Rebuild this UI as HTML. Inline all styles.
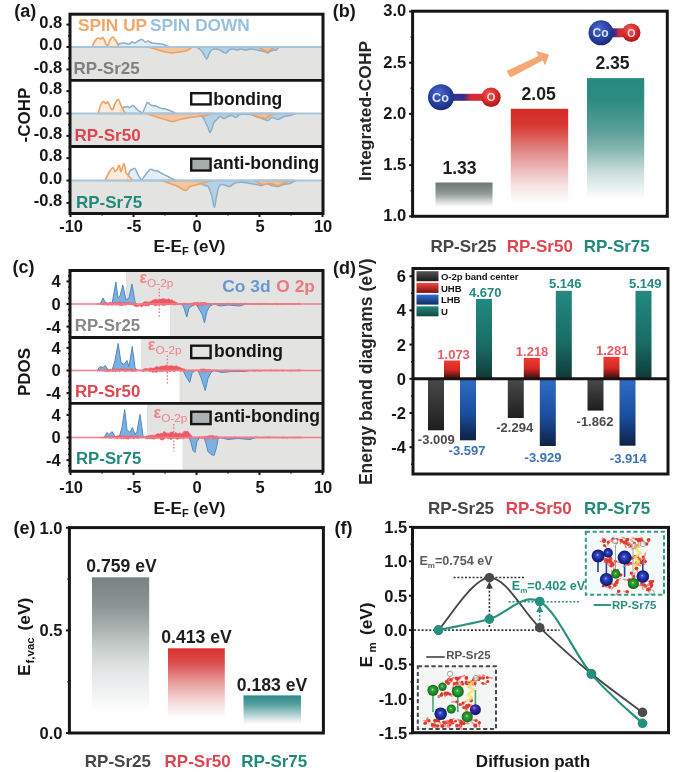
<!DOCTYPE html>
<html><head><meta charset="utf-8"><title>Figure</title>
<style>
html,body{margin:0;padding:0;background:#fff;}
body{width:697px;height:772px;overflow:hidden;}
svg{display:block;font-family:"Liberation Sans",sans-serif;filter:blur(0.35px);}
</style></head>
<body>
<svg width="697" height="772" viewBox="0 0 697 772">
<rect x="0" y="0" width="697" height="772" fill="#ffffff"/>
<rect x="70" y="47" width="253" height="33.3" fill="#e3e4e2"/>
<rect x="70" y="113.5" width="253" height="33.0" fill="#e3e4e2"/>
<rect x="70" y="180.5" width="253" height="32.5" fill="#e3e4e2"/>
<path d="M115.0,47.0 C115.7,46.5 117.5,44.7 119.0,44.0 C120.5,43.3 122.3,43.0 124.0,43.0 C125.7,43.0 127.7,44.2 129.0,44.0 C130.3,43.8 131.0,42.2 132.0,42.0 C133.0,41.8 134.0,43.2 135.0,43.0 C136.0,42.8 136.8,41.6 138.0,41.0 C139.2,40.4 140.8,39.3 142.0,39.5 C143.2,39.7 144.0,41.8 145.0,42.0 C146.0,42.2 146.8,40.8 148.0,41.0 C149.2,41.2 150.7,42.6 152.0,43.0 C153.3,43.4 154.3,43.3 156.0,43.5 C157.7,43.7 160.3,43.7 162.0,44.0 C163.7,44.3 164.7,45.0 166.0,45.5 C167.3,46.0 169.3,46.8 170.0,47.0 L170.0,47.0 L115.0,47.0 Z" fill="#deedf7" fill-opacity="0.9" stroke="#8eadc6" stroke-width="1.5" stroke-linejoin="round"/>
<path d="M196.0,47.0 C196.6,47.3 198.3,48.0 199.5,49.0 C200.7,50.0 201.8,51.3 203.0,53.0 C204.2,54.7 205.8,58.8 206.8,59.0 C207.8,59.2 208.2,55.5 209.0,54.0 C209.8,52.5 210.5,50.8 211.7,50.0 C212.9,49.2 214.6,49.0 216.0,49.0 C217.4,49.0 218.8,49.5 220.0,50.0 C221.2,50.5 221.9,51.5 223.0,52.0 C224.1,52.5 225.3,53.3 226.3,53.0 C227.3,52.7 227.9,50.7 229.0,50.0 C230.1,49.3 231.7,49.0 233.0,49.0 C234.3,49.0 235.7,50.0 237.0,50.0 C238.3,50.0 239.5,49.0 241.0,49.0 C242.5,49.0 244.3,50.0 246.0,50.0 C247.7,50.0 249.2,49.0 251.0,49.0 C252.8,49.0 255.2,49.7 257.0,50.0 C258.8,50.3 260.5,50.7 262.0,51.0 C263.5,51.3 265.0,51.7 266.0,52.0 C267.0,52.3 267.2,53.2 268.0,53.0 C268.8,52.8 270.0,51.5 271.0,51.0 C272.0,50.5 273.2,50.2 274.0,50.0 C274.8,49.8 275.2,50.5 276.0,50.0 C276.8,49.5 278.5,47.5 279.0,47.0 L279.0,47.0 L196.0,47.0 Z" fill="#aecfe8" fill-opacity="0.9" stroke="#8eadc6" stroke-width="1.5" stroke-linejoin="round"/>
<path d="M92.0,47.0 C92.5,46.0 94.0,42.5 95.0,41.0 C96.0,39.5 97.0,38.3 98.0,38.0 C99.0,37.7 100.2,39.1 101.0,39.0 C101.8,38.9 102.2,36.7 103.0,37.5 C103.8,38.3 105.2,42.7 106.0,44.0 C106.8,45.3 107.3,46.2 108.0,45.5 C108.7,44.8 109.2,41.4 110.0,40.0 C110.8,38.6 112.0,36.8 113.0,37.0 C114.0,37.2 115.0,39.3 116.0,41.0 C117.0,42.7 118.5,46.0 119.0,47.0 L119.0,47.0 L92.0,47.0 Z" fill="#fce6d2" fill-opacity="0.8" stroke="#f0a060" stroke-width="1.6" stroke-linejoin="round"/>
<path d="M148.0,47.0 C149.2,47.3 152.5,48.2 155.0,49.0 C157.5,49.8 160.2,50.8 163.0,51.5 C165.8,52.2 169.2,52.9 172.0,53.0 C174.8,53.1 177.5,52.4 180.0,52.0 C182.5,51.6 185.0,51.3 187.0,50.5 C189.0,49.7 191.2,47.6 192.0,47.0 L192.0,47.0 L148.0,47.0 Z" fill="#f5be92" fill-opacity="0.8" stroke="#f0a060" stroke-width="1.6" stroke-linejoin="round"/>
<path d="M258.0,47.0 C259.0,47.5 262.3,49.2 264.0,50.0 C265.7,50.8 266.7,51.8 268.0,51.5 C269.3,51.2 270.7,49.2 272.0,48.5 C273.3,47.8 275.3,47.2 276.0,47.0 L276.0,47.0 L258.0,47.0 Z" fill="#f5be92" fill-opacity="0.8" stroke="#f0a060" stroke-width="1.6" stroke-linejoin="round"/>
<line x1="70" y1="47" x2="323" y2="47" stroke="#a6c6de" stroke-width="1.8"/>
<path d="M120.0,113.5 C120.3,112.7 120.8,109.7 122.0,108.5 C123.2,107.3 125.7,106.7 127.0,106.5 C128.3,106.3 129.0,107.7 130.0,107.5 C131.0,107.3 131.8,105.2 133.0,105.5 C134.2,105.8 135.8,108.5 137.0,109.5 C138.2,110.5 139.1,111.0 140.0,111.5 C140.9,112.0 141.8,113.2 142.6,112.5 C143.4,111.8 144.2,109.2 145.0,107.5 C145.8,105.8 146.5,103.0 147.3,102.5 C148.1,102.0 149.2,104.0 150.0,104.5 C150.8,105.0 151.0,105.2 152.0,105.5 C153.0,105.8 154.8,105.7 156.0,106.0 C157.2,106.3 158.0,107.1 159.0,107.5 C160.0,107.9 160.7,108.2 162.0,108.5 C163.3,108.8 165.3,109.0 167.0,109.5 C168.7,110.0 170.5,110.8 172.0,111.5 C173.5,112.2 175.3,113.2 176.0,113.5 L176.0,113.5 L120.0,113.5 Z" fill="#deedf7" fill-opacity="0.9" stroke="#8eadc6" stroke-width="1.5" stroke-linejoin="round"/>
<path d="M198.0,113.5 C198.8,114.2 201.7,115.8 203.0,117.5 C204.3,119.2 205.2,121.8 206.0,123.5 C206.8,125.2 207.3,126.0 208.0,127.5 C208.7,129.0 209.3,132.3 210.0,132.5 C210.7,132.7 211.3,130.2 212.0,128.5 C212.7,126.8 213.2,124.0 214.0,122.5 C214.8,121.0 216.0,120.5 217.0,119.5 C218.0,118.5 218.8,116.7 220.0,116.5 C221.2,116.3 222.7,118.5 224.0,118.5 C225.3,118.5 226.7,117.0 228.0,116.5 C229.3,116.0 230.7,115.3 232.0,115.5 C233.3,115.7 234.7,117.7 236.0,117.5 C237.3,117.3 237.7,115.0 240.0,114.5 C242.3,114.0 247.3,114.2 250.0,114.5 C252.7,114.8 254.0,115.8 256.0,116.5 C258.0,117.2 260.0,117.8 262.0,118.5 C264.0,119.2 266.3,120.7 268.0,120.5 C269.7,120.3 270.3,117.7 272.0,117.5 C273.7,117.3 276.0,119.7 278.0,119.5 C280.0,119.3 282.0,117.2 284.0,116.5 C286.0,115.8 288.0,116.0 290.0,115.5 C292.0,115.0 295.0,113.8 296.0,113.5 L296.0,113.5 L198.0,113.5 Z" fill="#aecfe8" fill-opacity="0.9" stroke="#8eadc6" stroke-width="1.5" stroke-linejoin="round"/>
<path d="M98.0,113.5 C98.5,112.0 100.1,106.5 101.0,104.5 C101.9,102.5 102.6,101.7 103.4,101.5 C104.2,101.3 105.2,103.4 106.0,103.5 C106.8,103.6 107.2,101.3 108.0,102.0 C108.8,102.7 109.7,106.2 110.5,107.5 C111.3,108.8 112.0,110.2 112.8,109.5 C113.5,108.8 114.1,105.2 115.0,103.5 C115.9,101.8 117.4,99.2 118.4,99.5 C119.4,99.8 120.1,103.5 121.0,105.5 C121.9,107.5 123.2,110.2 124.0,111.5 C124.8,112.8 125.7,113.2 126.0,113.5 L126.0,113.5 L98.0,113.5 Z" fill="#fce6d2" fill-opacity="0.8" stroke="#f0a060" stroke-width="1.6" stroke-linejoin="round"/>
<path d="M146.0,113.5 C147.5,114.0 151.8,115.5 155.0,116.5 C158.2,117.5 162.1,118.7 165.0,119.5 C167.9,120.3 170.0,121.5 172.5,121.5 C175.0,121.5 177.1,120.2 180.0,119.5 C182.9,118.8 187.0,118.0 190.0,117.5 C193.0,117.0 195.5,116.8 198.0,116.5 C200.5,116.2 202.7,116.0 205.0,115.5 C207.3,115.0 210.8,113.8 212.0,113.5 L212.0,113.5 L146.0,113.5 Z" fill="#f5be92" fill-opacity="0.8" stroke="#f0a060" stroke-width="1.6" stroke-linejoin="round"/>
<path d="M250.0,113.5 C251.3,114.0 255.5,115.7 258.0,116.5 C260.5,117.3 263.0,118.7 265.0,118.5 C267.0,118.3 268.3,116.3 270.0,115.5 C271.7,114.7 274.2,113.8 275.0,113.5 L275.0,113.5 L250.0,113.5 Z" fill="#f5be92" fill-opacity="0.8" stroke="#f0a060" stroke-width="1.6" stroke-linejoin="round"/>
<line x1="70" y1="113.5" x2="323" y2="113.5" stroke="#a6c6de" stroke-width="1.8"/>
<path d="M127.0,180.5 C127.4,179.0 128.8,173.3 129.6,171.5 C130.4,169.7 131.1,170.0 132.0,169.5 C132.9,169.0 134.0,167.7 135.0,168.5 C136.0,169.3 136.9,172.7 138.0,174.5 C139.1,176.3 140.5,179.3 141.7,179.5 C142.9,179.7 143.6,177.2 145.0,175.5 C146.4,173.8 148.5,170.3 150.0,169.5 C151.5,168.7 152.8,170.2 154.0,170.5 C155.2,170.8 156.2,170.5 157.5,171.0 C158.8,171.5 160.4,172.7 162.0,173.5 C163.6,174.3 165.3,175.2 167.0,176.0 C168.7,176.8 170.5,177.8 172.0,178.5 C173.5,179.2 175.3,180.2 176.0,180.5 L176.0,180.5 L127.0,180.5 Z" fill="#deedf7" fill-opacity="0.9" stroke="#8eadc6" stroke-width="1.5" stroke-linejoin="round"/>
<path d="M196.0,180.5 C196.8,181.0 199.5,182.7 201.0,183.5 C202.5,184.3 203.8,185.0 205.0,185.5 C206.2,186.0 207.2,185.7 208.0,186.5 C208.8,187.3 209.3,188.8 210.0,190.5 C210.7,192.2 211.3,193.7 212.0,196.5 C212.7,199.3 213.6,207.5 214.3,207.5 C215.1,207.5 215.7,200.0 216.5,196.5 C217.3,193.0 218.1,188.5 219.0,186.5 C219.9,184.5 220.8,184.7 222.0,184.5 C223.2,184.3 224.7,185.2 226.0,185.5 C227.3,185.8 228.7,186.8 230.0,186.5 C231.3,186.2 232.7,184.2 234.0,183.5 C235.3,182.8 236.3,182.7 238.0,182.5 C239.7,182.3 242.0,182.3 244.0,182.5 C246.0,182.7 248.0,183.2 250.0,183.5 C252.0,183.8 254.0,184.2 256.0,184.5 C258.0,184.8 260.3,185.7 262.0,185.5 C263.7,185.3 264.3,183.5 266.0,183.5 C267.7,183.5 270.0,185.0 272.0,185.5 C274.0,186.0 276.0,186.7 278.0,186.5 C280.0,186.3 282.0,185.0 284.0,184.5 C286.0,184.0 288.0,184.2 290.0,183.5 C292.0,182.8 295.0,181.0 296.0,180.5 L296.0,180.5 L196.0,180.5 Z" fill="#aecfe8" fill-opacity="0.9" stroke="#8eadc6" stroke-width="1.5" stroke-linejoin="round"/>
<path d="M105.0,180.5 C105.7,179.2 107.7,174.7 109.0,172.5 C110.3,170.3 111.8,167.7 112.8,167.5 C113.8,167.3 114.3,171.2 115.0,171.5 C115.7,171.8 116.3,170.5 117.0,169.5 C117.7,168.5 118.6,165.2 119.3,165.5 C120.0,165.8 120.2,171.8 121.0,171.5 C121.8,171.2 123.2,163.3 124.0,163.5 C124.8,163.7 125.4,170.7 126.0,172.5 C126.6,174.3 127.0,173.7 127.7,174.5 C128.4,175.3 129.1,176.5 130.0,177.5 C130.9,178.5 132.5,180.0 133.0,180.5 L133.0,180.5 L105.0,180.5 Z" fill="#fce6d2" fill-opacity="0.8" stroke="#f0a060" stroke-width="1.6" stroke-linejoin="round"/>
<path d="M161.0,180.5 C162.5,181.0 167.2,182.5 170.0,183.5 C172.8,184.5 175.4,185.3 178.0,186.5 C180.6,187.7 183.5,190.5 185.5,190.5 C187.5,190.5 187.9,187.5 190.0,186.5 C192.1,185.5 195.5,185.2 198.0,184.5 C200.5,183.8 202.7,183.2 205.0,182.5 C207.3,181.8 210.8,180.8 212.0,180.5 L212.0,180.5 L161.0,180.5 Z" fill="#f5be92" fill-opacity="0.8" stroke="#f0a060" stroke-width="1.6" stroke-linejoin="round"/>
<path d="M255.0,180.5 C256.2,181.2 259.5,184.0 262.0,184.5 C264.5,185.0 267.3,183.3 270.0,183.5 C272.7,183.7 275.5,185.7 278.0,185.5 C280.5,185.3 282.7,183.3 285.0,182.5 C287.3,181.7 290.8,180.8 292.0,180.5 L292.0,180.5 L255.0,180.5 Z" fill="#f5be92" fill-opacity="0.8" stroke="#f0a060" stroke-width="1.6" stroke-linejoin="round"/>
<line x1="70" y1="180.5" x2="323" y2="180.5" stroke="#a6c6de" stroke-width="1.8"/>
<text x="78" y="30.8" font-size="17.3" fill="#f2a566" text-anchor="start" font-weight="bold" >SPIN UP</text>
<text x="150" y="30.8" font-size="17.3" fill="#97c1de" text-anchor="start" font-weight="bold" >SPIN DOWN</text>
<text x="73.6" y="73.8" font-size="17" fill="#7d8180" text-anchor="start" font-weight="bold" >RP-Sr25</text>
<text x="74.5" y="140.5" font-size="17" fill="#df4550" text-anchor="start" font-weight="bold" >RP-Sr50</text>
<text x="76" y="207.5" font-size="17" fill="#21897a" text-anchor="start" font-weight="bold" >RP-Sr75</text>
<rect x="191.2" y="93.2" width="19.4" height="11.2" fill="#ffffff" stroke="#161616" stroke-width="2.4"/>
<text x="213.3" y="105" font-size="17.5" fill="#161616" text-anchor="start" font-weight="bold" >bonding</text>
<rect x="191.2" y="158.7" width="19.4" height="11.8" fill="#a8acac" stroke="#161616" stroke-width="2.4"/>
<text x="213.3" y="168.6" font-size="17.5" fill="#161616" text-anchor="start" font-weight="bold" >anti-bonding</text>
<rect x="70" y="14.2" width="253" height="199.3" fill="none" stroke="#161616" stroke-width="3"/>
<line x1="70" y1="80.3" x2="323" y2="80.3" stroke="#161616" stroke-width="2.8"/>
<line x1="70" y1="146.5" x2="323" y2="146.5" stroke="#161616" stroke-width="2.8"/>
<line x1="66.5" y1="24.599999999999998" x2="70" y2="24.599999999999998" stroke="#161616" stroke-width="2"/>
<text x="62.3" y="27.9" font-size="16.5" fill="#161616" text-anchor="end" font-weight="bold" >0.8</text>
<line x1="66.5" y1="47.0" x2="70" y2="47.0" stroke="#161616" stroke-width="2"/>
<text x="62.3" y="50.3" font-size="16.5" fill="#161616" text-anchor="end" font-weight="bold" >0.0</text>
<line x1="66.5" y1="69.4" x2="70" y2="69.4" stroke="#161616" stroke-width="2"/>
<text x="62.3" y="72.7" font-size="16.5" fill="#161616" text-anchor="end" font-weight="bold" >-0.8</text>
<line x1="68" y1="35.8" x2="70" y2="35.8" stroke="#161616" stroke-width="1.5"/>
<line x1="68" y1="58.2" x2="70" y2="58.2" stroke="#161616" stroke-width="1.5"/>
<line x1="66.5" y1="91.1" x2="70" y2="91.1" stroke="#161616" stroke-width="2"/>
<text x="62.3" y="94.39999999999999" font-size="16.5" fill="#161616" text-anchor="end" font-weight="bold" >0.8</text>
<line x1="66.5" y1="113.5" x2="70" y2="113.5" stroke="#161616" stroke-width="2"/>
<text x="62.3" y="116.8" font-size="16.5" fill="#161616" text-anchor="end" font-weight="bold" >0.0</text>
<line x1="66.5" y1="135.9" x2="70" y2="135.9" stroke="#161616" stroke-width="2"/>
<text x="62.3" y="139.20000000000002" font-size="16.5" fill="#161616" text-anchor="end" font-weight="bold" >-0.8</text>
<line x1="68" y1="102.3" x2="70" y2="102.3" stroke="#161616" stroke-width="1.5"/>
<line x1="68" y1="124.7" x2="70" y2="124.7" stroke="#161616" stroke-width="1.5"/>
<line x1="66.5" y1="158.1" x2="70" y2="158.1" stroke="#161616" stroke-width="2"/>
<text x="62.3" y="161.4" font-size="16.5" fill="#161616" text-anchor="end" font-weight="bold" >0.8</text>
<line x1="66.5" y1="180.5" x2="70" y2="180.5" stroke="#161616" stroke-width="2"/>
<text x="62.3" y="183.8" font-size="16.5" fill="#161616" text-anchor="end" font-weight="bold" >0.0</text>
<line x1="66.5" y1="202.9" x2="70" y2="202.9" stroke="#161616" stroke-width="2"/>
<text x="62.3" y="206.20000000000002" font-size="16.5" fill="#161616" text-anchor="end" font-weight="bold" >-0.8</text>
<line x1="68" y1="169.3" x2="70" y2="169.3" stroke="#161616" stroke-width="1.5"/>
<line x1="68" y1="191.7" x2="70" y2="191.7" stroke="#161616" stroke-width="1.5"/>
<line x1="70.5" y1="213" x2="70.5" y2="217" stroke="#161616" stroke-width="2"/>
<text x="71.1" y="231.5" font-size="16.5" fill="#161616" text-anchor="middle" font-weight="bold" >-10</text>
<line x1="133.5" y1="213" x2="133.5" y2="217" stroke="#161616" stroke-width="2"/>
<text x="134.1" y="231.5" font-size="16.5" fill="#161616" text-anchor="middle" font-weight="bold" >-5</text>
<line x1="196.5" y1="213" x2="196.5" y2="217" stroke="#161616" stroke-width="2"/>
<text x="197.1" y="231.5" font-size="16.5" fill="#161616" text-anchor="middle" font-weight="bold" >0</text>
<line x1="259.5" y1="213" x2="259.5" y2="217" stroke="#161616" stroke-width="2"/>
<text x="260.1" y="231.5" font-size="16.5" fill="#161616" text-anchor="middle" font-weight="bold" >5</text>
<line x1="322.5" y1="213" x2="322.5" y2="217" stroke="#161616" stroke-width="2"/>
<text x="323.1" y="231.5" font-size="16.5" fill="#161616" text-anchor="middle" font-weight="bold" >10</text>
<line x1="102.0" y1="213" x2="102.0" y2="215.5" stroke="#161616" stroke-width="1.5"/>
<line x1="165.0" y1="213" x2="165.0" y2="215.5" stroke="#161616" stroke-width="1.5"/>
<line x1="228.0" y1="213" x2="228.0" y2="215.5" stroke="#161616" stroke-width="1.5"/>
<line x1="291.0" y1="213" x2="291.0" y2="215.5" stroke="#161616" stroke-width="1.5"/>
<text x="189.5" y="252" font-size="17" fill="#161616" text-anchor="middle" font-weight="bold">E-E<tspan font-size="11" dy="3">F</tspan><tspan dy="-3"> (eV)</tspan></text>
<text transform="translate(29.5,115) rotate(-90)" font-size="17" fill="#161616" text-anchor="middle" font-weight="bold">-COHP</text>
<text x="14.2" y="16.8" font-size="18" fill="#161616" text-anchor="start" font-weight="bold" >(a)</text>
<rect x="126" y="270" width="197" height="34" fill="#e3e4e2"/>
<rect x="170" y="304" width="153" height="33" fill="#e3e4e2"/>
<rect x="141" y="337" width="182" height="33.5" fill="#e3e4e2"/>
<rect x="179.5" y="370.5" width="143.5" height="33.0" fill="#e3e4e2"/>
<rect x="147" y="403.5" width="176" height="34.0" fill="#e3e4e2"/>
<rect x="182.5" y="437.5" width="140.5" height="33.5" fill="#e3e4e2"/>
<path d="M100.0,304.0 L103.0,298.0 L105.0,302.0 L107.0,303.0 L110.0,304.0 L110.0,304.0 L100.0,304.0 Z" fill="#7cb0e0" stroke="#5088c6" stroke-width="1" stroke-linejoin="round"/>
<path d="M112.0,304.0 L115.9,282.0 L118.0,298.0 L120.0,296.0 L122.8,285.0 L126.0,300.0 L129.0,298.0 L132.0,284.0 L135.0,302.0 L137.0,304.0 L137.0,304.0 L112.0,304.0 Z" fill="#7cb0e0" stroke="#5088c6" stroke-width="1" stroke-linejoin="round"/>
<path d="M182.0,304.0 L184.0,308.0 L186.8,317.0 L189.0,308.0 L192.0,306.0 L196.0,304.0 L196.0,304.0 L182.0,304.0 Z" fill="#7cb0e0" stroke="#5088c6" stroke-width="1" stroke-linejoin="round"/>
<path d="M196.0,304.0 L199.0,309.0 L202.0,314.0 L204.5,323.0 L207.0,311.0 L210.0,306.0 L214.0,304.0 L214.0,304.0 L196.0,304.0 Z" fill="#7cb0e0" stroke="#5088c6" stroke-width="1" stroke-linejoin="round"/>
<path d="M214.0,304.0 L220.0,306.0 L228.0,305.0 L240.0,306.0 L246.0,304.0 L246.0,304.0 L214.0,304.0 Z" fill="#7cb0e0" stroke="#5088c6" stroke-width="1" stroke-linejoin="round"/>
<path d="M97.2,303.5 L98.7,303.5 L99.7,303.4 L100.9,303.2 L102.5,303.3 L103.7,303.1 L105.1,302.9 L106.1,302.7 L107.4,303.2 L108.8,302.6 L110.3,302.3 L112.0,302.7 L113.7,303.0 L114.8,302.1 L116.3,302.7 L117.6,302.7 L119.1,302.1 L120.9,302.2 L122.4,302.9 L124.2,302.2 L125.7,303.0 L127.2,303.0 L128.9,302.5 L130.5,303.1 L131.8,302.9 L132.8,303.4 L134.4,304.4 L136.2,304.8 L137.4,305.2 L138.4,304.9 L139.9,304.5 L141.6,303.6 L143.3,302.6 L144.7,301.8 L146.2,301.8 L147.6,302.0 L148.8,302.2 L150.2,301.7 L151.5,300.9 L153.0,300.0 L154.5,299.8 L155.8,298.9 L156.8,299.9 L158.6,299.4 L160.1,299.3 L161.3,299.0 L162.6,298.8 L163.6,298.5 L164.8,299.1 L166.0,299.2 L167.6,299.6 L168.8,298.6 L170.5,300.1 L172.1,299.7 L173.2,301.2 L174.4,301.0 L175.5,302.1 L177.0,302.7 L178.1,303.6 L179.4,303.6 L180.7,303.5 L181.8,303.7 L183.5,303.3 L185.3,303.3 L186.9,303.4 L188.3,303.6 L189.5,303.7 L190.7,303.2 L192.4,303.0 L194.2,302.6 L195.2,302.6 L196.4,302.6 L197.7,302.2 L199.0,303.0 L200.4,302.3 L201.5,302.7 L202.7,302.4 L204.3,302.5 L205.8,302.6 L207.1,303.3 L208.4,303.3 L209.4,303.6 L210.5,303.7 L212.2,303.7 L213.4,303.6 L214.9,303.5 L216.1,303.6 L217.5,303.4 L218.6,303.6 L220.1,303.4 L221.7,303.5 L223.0,303.5 L224.4,303.4 L225.6,303.5 L226.6,303.5 L228.3,303.3 L230.0,303.4 L231.4,303.7 L232.9,303.3 L234.5,303.4 L235.6,303.5 L236.7,303.4 L237.7,303.7 L238.9,303.7 L240.0,303.4 L241.7,303.3 L243.3,303.7 L244.7,303.4 L246.3,303.3 L247.6,303.5 L248.8,303.6 L250.2,303.4 L251.5,303.6 L252.9,303.7 L254.7,303.5 L255.8,303.4 L257.3,303.5 L258.8,303.3 L259.9,303.4 L261.3,303.5 L262.5,303.6 L263.9,303.6 L265.5,303.3 L267.1,303.5 L268.5,303.6 L269.5,303.5 L270.7,303.6 L272.3,303.7 L273.7,303.5 L275.4,303.4 L276.7,303.4 L278.1,303.4 L279.4,303.6 L281.0,303.4 L282.7,303.6 L283.9,303.6 L285.6,303.3 L287.3,303.6 L288.9,303.7 L290.5,303.6 L292.0,303.4 L293.3,303.5 L294.4,303.5 L295.7,303.5 L297.0,303.4 L298.7,303.3 L300.4,303.6 L300.4,304.6 L298.7,304.3 L297.0,304.3 L295.7,304.3 L294.4,304.7 L293.3,304.4 L292.0,304.2 L290.5,304.4 L288.9,304.3 L287.3,304.4 L285.6,304.3 L283.9,304.6 L282.7,304.3 L281.0,304.7 L279.4,304.3 L278.1,304.7 L276.7,304.6 L275.4,304.5 L273.7,304.4 L272.3,304.7 L270.7,304.4 L269.5,304.4 L268.5,304.3 L267.1,304.6 L265.5,304.4 L263.9,304.3 L262.5,304.3 L261.3,304.6 L259.9,304.7 L258.8,304.3 L257.3,304.4 L255.8,304.6 L254.7,304.6 L252.9,304.5 L251.5,304.4 L250.2,304.4 L248.8,304.3 L247.6,304.6 L246.3,304.2 L244.7,304.3 L243.3,304.6 L241.7,304.5 L240.0,304.5 L238.9,304.6 L237.7,304.6 L236.7,304.2 L235.6,304.2 L234.5,304.5 L232.9,304.6 L231.4,304.6 L230.0,304.3 L228.3,304.4 L226.6,304.4 L225.6,304.6 L224.4,304.4 L223.0,304.6 L221.7,304.4 L220.1,304.4 L218.6,304.4 L217.5,304.4 L216.1,304.3 L214.9,304.4 L213.4,304.4 L212.2,304.5 L210.5,304.7 L209.4,304.3 L208.4,304.9 L207.1,304.9 L205.8,304.5 L204.3,304.5 L202.7,305.7 L201.5,305.6 L200.4,305.0 L199.0,305.7 L197.7,305.3 L196.4,305.2 L195.2,304.7 L194.2,305.0 L192.4,305.1 L190.7,304.3 L189.5,304.5 L188.3,304.4 L186.9,304.5 L185.3,304.3 L183.5,304.4 L181.8,304.7 L180.7,304.7 L179.4,304.4 L178.1,304.6 L177.0,304.4 L175.5,304.9 L174.4,305.0 L173.2,304.7 L172.1,304.7 L170.5,304.5 L168.8,304.7 L167.6,304.5 L166.0,304.7 L164.8,305.5 L163.6,305.3 L162.6,305.4 L161.3,305.0 L160.1,304.6 L158.6,304.9 L156.8,305.5 L155.8,305.7 L154.5,305.7 L153.0,304.5 L151.5,304.5 L150.2,304.5 L148.8,306.1 L147.6,305.7 L146.2,306.0 L144.7,305.4 L143.3,305.5 L141.6,307.1 L139.9,305.6 L138.4,306.3 L137.4,306.5 L136.2,306.8 L134.4,306.1 L132.8,304.6 L131.8,305.0 L130.5,304.4 L128.9,304.4 L127.2,304.4 L125.7,305.3 L124.2,305.0 L122.4,305.4 L120.9,305.6 L119.1,305.2 L117.6,305.1 L116.3,305.0 L114.8,304.9 L113.7,304.6 L112.0,305.4 L110.3,304.8 L108.8,305.2 L107.4,305.2 L106.1,304.9 L105.1,304.9 L103.7,304.9 L102.5,304.7 L100.9,304.5 L99.7,304.3 L98.7,304.2 L97.2,304.4 Z" fill="#ee5864" stroke="#ec5a66" stroke-width="0.6" stroke-linejoin="round"/>
<line x1="70" y1="304" x2="323" y2="304" stroke="#f07c88" stroke-width="1.6"/>
<path d="M97.0,370.5 L100.0,366.5 L103.0,367.5 L105.0,365.5 L108.0,369.5 L111.0,370.5 L111.0,370.5 L97.0,370.5 Z" fill="#7cb0e0" stroke="#5088c6" stroke-width="1" stroke-linejoin="round"/>
<path d="M112.0,370.5 L115.0,360.5 L118.2,343.5 L121.0,362.5 L124.0,364.5 L127.0,360.5 L129.0,366.5 L132.3,346.5 L135.0,367.5 L137.0,370.5 L137.0,370.5 L112.0,370.5 Z" fill="#7cb0e0" stroke="#5088c6" stroke-width="1" stroke-linejoin="round"/>
<path d="M183.0,370.5 L186.0,376.5 L189.7,382.5 L192.0,373.5 L195.0,370.5 L195.0,370.5 L183.0,370.5 Z" fill="#7cb0e0" stroke="#5088c6" stroke-width="1" stroke-linejoin="round"/>
<path d="M198.0,370.5 L201.0,377.5 L205.2,390.5 L208.0,378.5 L211.0,372.5 L214.0,370.5 L214.0,370.5 L198.0,370.5 Z" fill="#7cb0e0" stroke="#5088c6" stroke-width="1" stroke-linejoin="round"/>
<path d="M214.0,370.5 L222.0,372.5 L232.0,371.5 L245.0,371.5 L250.0,370.5 L250.0,370.5 L214.0,370.5 Z" fill="#7cb0e0" stroke="#5088c6" stroke-width="1" stroke-linejoin="round"/>
<path d="M97.6,370.1 L99.1,369.9 L100.7,369.8 L102.2,370.2 L103.4,369.7 L104.9,369.9 L106.4,369.8 L107.9,369.7 L109.0,369.5 L110.5,369.2 L111.9,369.4 L112.9,369.0 L114.4,368.9 L115.6,369.2 L116.6,369.0 L118.2,369.2 L119.6,369.0 L120.8,368.7 L122.1,369.4 L123.7,368.8 L124.8,369.2 L126.5,368.9 L127.6,369.3 L129.0,369.2 L130.2,369.1 L131.9,369.1 L133.2,369.5 L134.7,369.4 L135.9,369.6 L137.4,369.8 L139.0,369.9 L140.4,369.9 L141.9,369.9 L143.4,369.3 L145.1,368.5 L146.8,368.5 L148.1,368.9 L149.5,367.9 L151.2,368.1 L152.9,368.3 L154.4,367.8 L156.1,366.7 L157.4,366.4 L158.5,367.3 L159.7,366.8 L161.3,365.9 L162.8,366.2 L164.4,365.9 L166.1,365.0 L167.4,365.2 L168.6,366.1 L170.2,365.8 L171.4,365.7 L172.7,365.9 L173.8,366.0 L174.8,366.4 L176.1,365.5 L177.5,366.4 L179.2,367.1 L180.6,367.7 L181.9,368.2 L183.5,368.8 L184.8,369.1 L186.0,370.1 L187.5,370.1 L189.1,369.8 L190.1,370.2 L191.2,370.2 L192.8,369.8 L194.5,370.0 L196.3,369.8 L197.5,369.9 L198.6,369.9 L199.7,369.7 L201.2,369.1 L202.8,369.1 L204.3,368.9 L205.6,369.6 L207.0,369.6 L208.5,369.4 L209.9,369.6 L211.4,370.1 L213.0,369.9 L214.2,369.9 L215.9,369.9 L217.6,369.9 L218.9,370.2 L220.7,370.2 L221.8,370.2 L223.0,370.2 L224.5,370.0 L225.7,369.8 L227.1,370.0 L228.6,369.9 L229.8,370.1 L231.4,370.2 L233.2,370.1 L234.3,370.0 L235.9,370.0 L237.5,369.9 L239.0,370.0 L240.7,370.0 L241.9,370.0 L243.4,370.2 L244.8,370.2 L246.4,370.0 L247.9,370.1 L249.7,370.1 L250.8,370.1 L252.5,369.9 L254.3,370.0 L255.7,370.0 L257.4,369.8 L259.1,370.0 L260.8,370.1 L262.0,370.2 L263.2,370.0 L264.2,369.9 L265.6,370.1 L267.2,370.1 L268.4,370.0 L269.5,369.9 L271.3,369.8 L272.6,370.2 L274.0,370.0 L275.3,369.9 L276.6,369.8 L277.9,370.1 L278.9,370.2 L280.3,370.2 L281.5,369.9 L283.3,369.9 L284.3,370.1 L285.6,370.1 L287.1,370.2 L288.3,369.9 L289.5,370.2 L291.0,369.9 L292.6,370.1 L294.2,369.9 L295.9,370.0 L297.0,370.2 L298.7,369.8 L300.3,369.8 L300.3,371.1 L298.7,370.9 L297.0,371.0 L295.9,370.8 L294.2,371.0 L292.6,370.8 L291.0,371.2 L289.5,370.9 L288.3,370.9 L287.1,370.9 L285.6,370.7 L284.3,370.7 L283.3,371.2 L281.5,370.9 L280.3,370.7 L278.9,371.0 L277.9,371.1 L276.6,371.1 L275.3,370.8 L274.0,371.0 L272.6,370.9 L271.3,371.1 L269.5,371.1 L268.4,370.7 L267.2,370.8 L265.6,371.1 L264.2,370.8 L263.2,371.0 L262.0,371.1 L260.8,371.2 L259.1,371.2 L257.4,370.9 L255.7,371.2 L254.3,371.2 L252.5,371.1 L250.8,370.8 L249.7,370.9 L247.9,370.9 L246.4,371.0 L244.8,371.0 L243.4,370.9 L241.9,370.9 L240.7,371.1 L239.0,370.8 L237.5,370.9 L235.9,371.0 L234.3,370.8 L233.2,371.1 L231.4,370.7 L229.8,370.7 L228.6,371.0 L227.1,371.1 L225.7,370.8 L224.5,370.7 L223.0,370.8 L221.8,371.0 L220.7,371.0 L218.9,370.9 L217.6,370.9 L215.9,370.9 L214.2,371.0 L213.0,370.8 L211.4,371.2 L209.9,371.0 L208.5,371.7 L207.0,371.2 L205.6,371.9 L204.3,371.4 L202.8,371.9 L201.2,371.1 L199.7,371.2 L198.6,371.4 L197.5,371.3 L196.3,370.7 L194.5,371.1 L192.8,370.8 L191.2,370.7 L190.1,370.8 L189.1,371.0 L187.5,370.8 L186.0,371.1 L184.8,370.9 L183.5,371.4 L181.9,370.7 L180.6,371.5 L179.2,370.7 L177.5,370.6 L176.1,370.6 L174.8,371.4 L173.8,371.5 L172.7,370.5 L171.4,370.8 L170.2,371.5 L168.6,370.9 L167.4,371.7 L166.1,371.2 L164.4,370.9 L162.8,371.5 L161.3,371.6 L159.7,371.8 L158.5,371.0 L157.4,371.9 L156.1,372.6 L154.4,371.6 L152.9,372.5 L151.2,371.3 L149.5,371.5 L148.1,371.1 L146.8,371.0 L145.1,371.1 L143.4,371.5 L141.9,371.2 L140.4,370.8 L139.0,371.0 L137.4,370.7 L135.9,371.1 L134.7,371.3 L133.2,371.3 L131.9,371.7 L130.2,370.9 L129.0,371.1 L127.6,371.1 L126.5,371.5 L124.8,371.8 L123.7,371.1 L122.1,371.1 L120.8,371.1 L119.6,371.8 L118.2,371.3 L116.6,371.2 L115.6,371.9 L114.4,371.3 L112.9,371.7 L111.9,371.1 L110.5,371.5 L109.0,371.5 L107.9,371.6 L106.4,371.5 L104.9,371.2 L103.4,371.1 L102.2,371.0 L100.7,371.0 L99.1,370.8 L97.6,371.0 Z" fill="#ee5864" stroke="#ec5a66" stroke-width="0.6" stroke-linejoin="round"/>
<line x1="70" y1="370.5" x2="323" y2="370.5" stroke="#f07c88" stroke-width="1.6"/>
<path d="M104.0,437.5 L107.0,432.5 L109.0,434.5 L112.0,431.5 L115.0,436.5 L118.0,437.5 L118.0,437.5 L104.0,437.5 Z" fill="#7cb0e0" stroke="#5088c6" stroke-width="1" stroke-linejoin="round"/>
<path d="M119.0,437.5 L122.0,427.5 L124.7,409.5 L127.0,429.5 L130.0,432.5 L132.3,427.5 L135.0,434.5 L137.0,431.5 L140.0,414.5 L143.0,435.5 L145.0,437.5 L145.0,437.5 L119.0,437.5 Z" fill="#7cb0e0" stroke="#5088c6" stroke-width="1" stroke-linejoin="round"/>
<path d="M189.0,437.5 L191.0,442.5 L193.0,450.5 L195.0,452.5 L197.0,441.5 L200.0,437.5 L200.0,437.5 L189.0,437.5 Z" fill="#7cb0e0" stroke="#5088c6" stroke-width="1" stroke-linejoin="round"/>
<path d="M204.0,437.5 L206.0,443.5 L208.0,451.5 L211.0,454.5 L214.0,455.5 L216.0,449.5 L218.0,439.5 L220.0,437.5 L220.0,437.5 L204.0,437.5 Z" fill="#7cb0e0" stroke="#5088c6" stroke-width="1" stroke-linejoin="round"/>
<path d="M220.0,437.5 L228.0,439.5 L238.0,438.5 L250.0,439.5 L256.0,437.5 L256.0,437.5 L220.0,437.5 Z" fill="#7cb0e0" stroke="#5088c6" stroke-width="1" stroke-linejoin="round"/>
<path d="M101.5,437.0 L102.6,437.1 L104.4,437.0 L105.7,437.0 L107.1,436.8 L108.3,437.0 L110.0,436.6 L111.5,437.0 L112.9,436.5 L114.5,436.1 L116.0,436.4 L117.7,435.8 L118.9,435.8 L120.2,435.8 L121.4,435.6 L122.7,436.2 L123.8,436.3 L124.8,436.3 L125.9,436.0 L127.6,435.9 L128.6,436.2 L129.6,436.3 L130.8,436.0 L132.0,435.7 L133.8,436.5 L135.3,436.2 L136.3,436.1 L137.5,436.2 L138.5,436.2 L139.8,436.9 L141.6,436.9 L142.7,437.1 L144.5,437.1 L146.2,435.9 L147.4,436.1 L148.8,435.5 L149.8,435.7 L151.5,435.2 L152.9,435.2 L154.6,435.4 L156.3,434.3 L158.1,433.4 L159.3,434.1 L161.1,433.2 L162.2,433.9 L163.8,431.6 L165.2,432.1 L166.6,432.9 L168.1,433.3 L169.4,433.2 L170.9,431.9 L172.6,432.1 L174.4,433.2 L175.8,432.6 L177.3,433.6 L178.7,433.5 L180.4,433.2 L181.7,434.1 L183.1,432.4 L184.1,431.3 L185.9,431.6 L187.3,431.1 L189.0,432.6 L190.3,434.2 L191.6,436.1 L193.0,437.2 L194.3,437.0 L195.4,437.1 L196.4,437.0 L197.8,436.9 L199.5,436.8 L201.1,437.0 L202.4,436.5 L203.6,436.5 L205.1,436.4 L206.3,436.4 L207.5,436.0 L208.9,435.8 L210.4,435.7 L212.2,435.5 L213.6,435.6 L214.6,436.4 L216.0,435.8 L217.2,436.4 L218.9,436.9 L220.0,437.0 L221.7,437.0 L222.8,437.1 L224.5,437.0 L226.3,436.9 L227.4,437.1 L228.6,437.0 L229.8,436.9 L231.5,436.9 L232.6,437.0 L233.7,436.9 L235.4,436.8 L237.1,437.1 L238.3,437.2 L239.6,436.9 L240.6,437.1 L241.8,437.1 L243.3,437.1 L244.5,437.0 L245.7,436.9 L247.2,437.0 L248.8,437.1 L250.3,437.0 L251.3,436.9 L252.7,437.0 L254.5,436.9 L256.1,436.8 L257.9,437.0 L259.5,437.1 L261.0,437.2 L262.6,437.0 L264.3,437.0 L265.8,436.9 L266.9,436.9 L268.1,436.8 L269.5,436.8 L271.1,437.1 L272.7,436.9 L274.1,437.0 L275.6,437.0 L276.7,437.0 L278.3,437.1 L279.4,437.0 L280.5,437.2 L281.7,437.0 L282.8,437.0 L284.5,437.0 L285.5,437.1 L287.3,437.2 L288.7,437.0 L290.4,437.1 L291.8,437.1 L293.6,436.9 L295.3,437.2 L296.9,437.1 L298.7,437.1 L299.9,436.9 L301.3,437.1 L301.3,438.1 L299.9,437.8 L298.7,438.1 L296.9,437.9 L295.3,438.1 L293.6,438.1 L291.8,437.8 L290.4,438.0 L288.7,437.8 L287.3,438.2 L285.5,437.9 L284.5,437.9 L282.8,438.2 L281.7,437.8 L280.5,437.9 L279.4,438.0 L278.3,437.9 L276.7,437.9 L275.6,437.9 L274.1,437.8 L272.7,437.9 L271.1,437.7 L269.5,438.1 L268.1,438.1 L266.9,438.0 L265.8,437.8 L264.3,438.0 L262.6,438.0 L261.0,438.0 L259.5,438.1 L257.9,437.8 L256.1,437.9 L254.5,437.8 L252.7,437.8 L251.3,438.1 L250.3,437.9 L248.8,438.0 L247.2,437.8 L245.7,437.8 L244.5,438.0 L243.3,437.8 L241.8,437.8 L240.6,437.9 L239.6,438.1 L238.3,438.0 L237.1,437.8 L235.4,437.8 L233.7,437.8 L232.6,437.9 L231.5,437.8 L229.8,438.2 L228.6,438.0 L227.4,438.2 L226.3,438.0 L224.5,437.8 L222.8,437.9 L221.7,438.0 L220.0,437.7 L218.9,438.0 L217.2,438.3 L216.0,438.7 L214.6,438.4 L213.6,439.1 L212.2,438.0 L210.4,438.0 L208.9,438.7 L207.5,438.4 L206.3,438.9 L205.1,437.9 L203.6,438.6 L202.4,438.5 L201.1,438.3 L199.5,437.9 L197.8,438.1 L196.4,438.2 L195.4,437.8 L194.3,437.8 L193.0,437.8 L191.6,438.3 L190.3,438.0 L189.0,437.9 L187.3,438.1 L185.9,437.7 L184.1,438.2 L183.1,439.0 L181.7,437.8 L180.4,438.6 L178.7,438.7 L177.3,439.6 L175.8,438.4 L174.4,437.9 L172.6,438.3 L170.9,439.7 L169.4,438.4 L168.1,438.7 L166.6,438.0 L165.2,438.0 L163.8,439.5 L162.2,440.0 L161.1,440.0 L159.3,438.1 L158.1,438.3 L156.3,438.3 L154.6,439.0 L152.9,438.9 L151.5,438.7 L149.8,439.0 L148.8,438.3 L147.4,438.9 L146.2,438.7 L144.5,437.8 L142.7,437.9 L141.6,437.8 L139.8,438.1 L138.5,438.3 L137.5,438.6 L136.3,438.0 L135.3,438.0 L133.8,438.9 L132.0,438.1 L130.8,438.0 L129.6,438.5 L128.6,439.0 L127.6,438.9 L125.9,438.8 L124.8,438.2 L123.8,439.1 L122.7,438.2 L121.4,439.0 L120.2,438.3 L118.9,438.1 L117.7,438.5 L116.0,438.4 L114.5,437.9 L112.9,438.0 L111.5,438.2 L110.0,438.3 L108.3,437.9 L107.1,437.8 L105.7,438.1 L104.4,437.9 L102.6,438.0 L101.5,438.0 Z" fill="#ee5864" stroke="#ec5a66" stroke-width="0.6" stroke-linejoin="round"/>
<line x1="70" y1="437.5" x2="323" y2="437.5" stroke="#f07c88" stroke-width="1.6"/>
<text x="139.5" y="283" font-size="16" fill="#f0808a" font-weight="bold">&#949;<tspan font-size="11.8" dy="4" font-weight="normal">O-2p</tspan></text>
<line x1="159.3" y1="288.5" x2="159.3" y2="318" stroke="#ec7080" stroke-width="1.3" stroke-dasharray="1.5,1.8"/>
<text x="147.8" y="350" font-size="16" fill="#f0808a" font-weight="bold">&#949;<tspan font-size="11.8" dy="4" font-weight="normal">O-2p</tspan></text>
<line x1="167.4" y1="355.5" x2="167.4" y2="384" stroke="#ec7080" stroke-width="1.3" stroke-dasharray="1.5,1.8"/>
<text x="153.6" y="417.8" font-size="16" fill="#f0808a" font-weight="bold">&#949;<tspan font-size="11.8" dy="4" font-weight="normal">O-2p</tspan></text>
<line x1="173.8" y1="424" x2="173.8" y2="451.5" stroke="#ec7080" stroke-width="1.3" stroke-dasharray="1.5,1.8"/>
<text x="222.3" y="292.3" font-size="17.4" fill="#6498d2" text-anchor="start" font-weight="bold" >Co 3d</text>
<text x="276.3" y="292.3" font-size="17.4" fill="#f07880" text-anchor="start" font-weight="bold" >O 2p</text>
<text x="74.8" y="331" font-size="16.8" fill="#858888" text-anchor="start" font-weight="bold" >RP-Sr25</text>
<text x="75" y="397.3" font-size="16.8" fill="#df4550" text-anchor="start" font-weight="bold" >RP-Sr50</text>
<text x="76" y="464.3" font-size="16.8" fill="#21897a" text-anchor="start" font-weight="bold" >RP-Sr75</text>
<rect x="191.2" y="345.7" width="19.4" height="12.4" fill="none" stroke="#161616" stroke-width="2.4"/>
<text x="214" y="357.2" font-size="17.5" fill="#161616" text-anchor="start" font-weight="bold" >bonding</text>
<rect x="191.2" y="411.7" width="19.4" height="12.4" fill="#aeb2b2" stroke="#161616" stroke-width="2.4"/>
<text x="214" y="421.8" font-size="17.5" fill="#161616" text-anchor="start" font-weight="bold" >anti-bonding</text>
<rect x="70" y="270.5" width="253" height="200.8" fill="none" stroke="#161616" stroke-width="3"/>
<line x1="70" y1="337.5" x2="323" y2="337.5" stroke="#161616" stroke-width="2.8"/>
<line x1="70" y1="403.3" x2="323" y2="403.3" stroke="#161616" stroke-width="2.8"/>
<line x1="66.5" y1="281.4" x2="70" y2="281.4" stroke="#161616" stroke-width="2"/>
<text x="60.6" y="287.29999999999995" font-size="16.5" fill="#161616" text-anchor="end" font-weight="bold" >4</text>
<line x1="66.5" y1="304.0" x2="70" y2="304.0" stroke="#161616" stroke-width="2"/>
<text x="60.6" y="309.9" font-size="16.5" fill="#161616" text-anchor="end" font-weight="bold" >0</text>
<line x1="66.5" y1="326.6" x2="70" y2="326.6" stroke="#161616" stroke-width="2"/>
<text x="60.6" y="332.5" font-size="16.5" fill="#161616" text-anchor="end" font-weight="bold" >-4</text>
<line x1="68" y1="275.75" x2="70" y2="275.75" stroke="#161616" stroke-width="1.3"/>
<line x1="68" y1="287.05" x2="70" y2="287.05" stroke="#161616" stroke-width="1.3"/>
<line x1="68" y1="292.7" x2="70" y2="292.7" stroke="#161616" stroke-width="1.3"/>
<line x1="68" y1="298.35" x2="70" y2="298.35" stroke="#161616" stroke-width="1.3"/>
<line x1="68" y1="309.65" x2="70" y2="309.65" stroke="#161616" stroke-width="1.3"/>
<line x1="68" y1="315.3" x2="70" y2="315.3" stroke="#161616" stroke-width="1.3"/>
<line x1="68" y1="320.95" x2="70" y2="320.95" stroke="#161616" stroke-width="1.3"/>
<line x1="68" y1="332.25" x2="70" y2="332.25" stroke="#161616" stroke-width="1.3"/>
<line x1="66.5" y1="347.9" x2="70" y2="347.9" stroke="#161616" stroke-width="2"/>
<text x="60.6" y="353.79999999999995" font-size="16.5" fill="#161616" text-anchor="end" font-weight="bold" >4</text>
<line x1="66.5" y1="370.5" x2="70" y2="370.5" stroke="#161616" stroke-width="2"/>
<text x="60.6" y="376.4" font-size="16.5" fill="#161616" text-anchor="end" font-weight="bold" >0</text>
<line x1="66.5" y1="393.1" x2="70" y2="393.1" stroke="#161616" stroke-width="2"/>
<text x="60.6" y="399.0" font-size="16.5" fill="#161616" text-anchor="end" font-weight="bold" >-4</text>
<line x1="68" y1="342.25" x2="70" y2="342.25" stroke="#161616" stroke-width="1.3"/>
<line x1="68" y1="353.55" x2="70" y2="353.55" stroke="#161616" stroke-width="1.3"/>
<line x1="68" y1="359.2" x2="70" y2="359.2" stroke="#161616" stroke-width="1.3"/>
<line x1="68" y1="364.85" x2="70" y2="364.85" stroke="#161616" stroke-width="1.3"/>
<line x1="68" y1="376.15" x2="70" y2="376.15" stroke="#161616" stroke-width="1.3"/>
<line x1="68" y1="381.8" x2="70" y2="381.8" stroke="#161616" stroke-width="1.3"/>
<line x1="68" y1="387.45" x2="70" y2="387.45" stroke="#161616" stroke-width="1.3"/>
<line x1="68" y1="398.75" x2="70" y2="398.75" stroke="#161616" stroke-width="1.3"/>
<line x1="66.5" y1="414.9" x2="70" y2="414.9" stroke="#161616" stroke-width="2"/>
<text x="60.6" y="420.79999999999995" font-size="16.5" fill="#161616" text-anchor="end" font-weight="bold" >4</text>
<line x1="66.5" y1="437.5" x2="70" y2="437.5" stroke="#161616" stroke-width="2"/>
<text x="60.6" y="443.4" font-size="16.5" fill="#161616" text-anchor="end" font-weight="bold" >0</text>
<line x1="66.5" y1="460.1" x2="70" y2="460.1" stroke="#161616" stroke-width="2"/>
<text x="60.6" y="466.0" font-size="16.5" fill="#161616" text-anchor="end" font-weight="bold" >-4</text>
<line x1="68" y1="409.25" x2="70" y2="409.25" stroke="#161616" stroke-width="1.3"/>
<line x1="68" y1="420.55" x2="70" y2="420.55" stroke="#161616" stroke-width="1.3"/>
<line x1="68" y1="426.2" x2="70" y2="426.2" stroke="#161616" stroke-width="1.3"/>
<line x1="68" y1="431.85" x2="70" y2="431.85" stroke="#161616" stroke-width="1.3"/>
<line x1="68" y1="443.15" x2="70" y2="443.15" stroke="#161616" stroke-width="1.3"/>
<line x1="68" y1="448.8" x2="70" y2="448.8" stroke="#161616" stroke-width="1.3"/>
<line x1="68" y1="454.45" x2="70" y2="454.45" stroke="#161616" stroke-width="1.3"/>
<line x1="68" y1="465.75" x2="70" y2="465.75" stroke="#161616" stroke-width="1.3"/>
<line x1="70.5" y1="471" x2="70.5" y2="475" stroke="#161616" stroke-width="2"/>
<text x="71.1" y="493" font-size="16.5" fill="#161616" text-anchor="middle" font-weight="bold" >-10</text>
<line x1="133.5" y1="471" x2="133.5" y2="475" stroke="#161616" stroke-width="2"/>
<text x="134.1" y="493" font-size="16.5" fill="#161616" text-anchor="middle" font-weight="bold" >-5</text>
<line x1="196.5" y1="471" x2="196.5" y2="475" stroke="#161616" stroke-width="2"/>
<text x="197.1" y="493" font-size="16.5" fill="#161616" text-anchor="middle" font-weight="bold" >0</text>
<line x1="259.5" y1="471" x2="259.5" y2="475" stroke="#161616" stroke-width="2"/>
<text x="260.1" y="493" font-size="16.5" fill="#161616" text-anchor="middle" font-weight="bold" >5</text>
<line x1="322.5" y1="471" x2="322.5" y2="475" stroke="#161616" stroke-width="2"/>
<text x="323.1" y="493" font-size="16.5" fill="#161616" text-anchor="middle" font-weight="bold" >10</text>
<line x1="102.0" y1="471" x2="102.0" y2="473.5" stroke="#161616" stroke-width="1.5"/>
<line x1="165.0" y1="471" x2="165.0" y2="473.5" stroke="#161616" stroke-width="1.5"/>
<line x1="228.0" y1="471" x2="228.0" y2="473.5" stroke="#161616" stroke-width="1.5"/>
<line x1="291.0" y1="471" x2="291.0" y2="473.5" stroke="#161616" stroke-width="1.5"/>
<text x="189.5" y="513.5" font-size="17" fill="#161616" text-anchor="middle" font-weight="bold">E-E<tspan font-size="11" dy="3">F</tspan><tspan dy="-3"> (eV)</tspan></text>
<text transform="translate(29.5,372) rotate(-90)" font-size="17" fill="#161616" text-anchor="middle" font-weight="bold">PDOS</text>
<text x="12.4" y="273" font-size="18" fill="#161616" text-anchor="start" font-weight="bold" >(c)</text>
<defs>
<linearGradient id="gbb25" x1="0" y1="0" x2="0" y2="1"><stop offset="0" stop-color="#6c7875"/><stop offset="0.45" stop-color="#8f9996"/><stop offset="0.72" stop-color="#c8cecc"/><stop offset="0.9" stop-color="#eceeed"/><stop offset="1" stop-color="#ffffff"/></linearGradient>
<linearGradient id="gbb50" x1="0" y1="0" x2="0" y2="1"><stop offset="0" stop-color="#d42a22"/><stop offset="0.18" stop-color="#d83a34"/><stop offset="0.45" stop-color="#e28a8a"/><stop offset="0.8" stop-color="#f6e2e2"/><stop offset="1" stop-color="#ffffff"/></linearGradient>
<linearGradient id="gbb75" x1="0" y1="0" x2="0" y2="1"><stop offset="0" stop-color="#258a80"/><stop offset="0.185" stop-color="#2d8c82"/><stop offset="0.43" stop-color="#5a9f98"/><stop offset="0.6" stop-color="#8ab8b2"/><stop offset="0.77" stop-color="#c8dcda"/><stop offset="0.93" stop-color="#eef4f4"/><stop offset="1" stop-color="#ffffff"/></linearGradient>
<linearGradient id="gbe25" x1="0" y1="0" x2="0" y2="1"><stop offset="0" stop-color="#788281"/><stop offset="0.22" stop-color="#8c9695"/><stop offset="0.41" stop-color="#b0b8b6"/><stop offset="0.56" stop-color="#cfd4d3"/><stop offset="0.71" stop-color="#e5e8e8"/><stop offset="0.87" stop-color="#f2f4f4"/><stop offset="1" stop-color="#ffffff"/></linearGradient>
<linearGradient id="gbe50" x1="0" y1="0" x2="0" y2="1"><stop offset="0" stop-color="#d8302a"/><stop offset="0.22" stop-color="#dc5050"/><stop offset="0.5" stop-color="#e8a0a0"/><stop offset="0.74" stop-color="#f4d4d4"/><stop offset="0.9" stop-color="#fbefef"/><stop offset="1" stop-color="#ffffff"/></linearGradient>
<linearGradient id="gbe75" x1="0" y1="0" x2="0" y2="1"><stop offset="0" stop-color="#2a8a88"/><stop offset="0.32" stop-color="#5aa0a0"/><stop offset="0.61" stop-color="#a0c8c8"/><stop offset="0.84" stop-color="#dde8e8"/><stop offset="1" stop-color="#ffffff"/></linearGradient>
<radialGradient id="gCo" cx="0.45" cy="0.4" r="0.6" fx="0.4" fy="0.3"><stop offset="0" stop-color="#4d6ad0"/><stop offset="0.6" stop-color="#2a44a6"/><stop offset="1" stop-color="#1a2a78"/></radialGradient>
<radialGradient id="gO" cx="0.45" cy="0.4" r="0.6" fx="0.4" fy="0.3"><stop offset="0" stop-color="#f25a5a"/><stop offset="0.6" stop-color="#d92d2d"/><stop offset="1" stop-color="#a51818"/></radialGradient>
<linearGradient id="gBond" x1="0" y1="0" x2="1" y2="0"><stop offset="0" stop-color="#2a3ca0"/><stop offset="0.45" stop-color="#3a2a90"/><stop offset="0.6" stop-color="#d42a3a"/><stop offset="1" stop-color="#e03030"/></linearGradient>
<linearGradient id="gd_k" x1="0" y1="0" x2="0" y2="1"><stop offset="0" stop-color="#4a4a4a"/><stop offset="1" stop-color="#1e1e1e"/></linearGradient>
<linearGradient id="gd_r" x1="0" y1="0" x2="0" y2="1"><stop offset="0" stop-color="#f03a30"/><stop offset="0.5" stop-color="#d42a24"/><stop offset="1" stop-color="#3a0c0c"/></linearGradient>
<linearGradient id="gd_b" x1="0" y1="0" x2="0" y2="1"><stop offset="0" stop-color="#2f6cc6"/><stop offset="0.55" stop-color="#1c4ea0"/><stop offset="1" stop-color="#0e2244"/></linearGradient>
<linearGradient id="gd_t" x1="0" y1="0" x2="0" y2="1"><stop offset="0" stop-color="#228a82"/><stop offset="0.6" stop-color="#1a6a64"/><stop offset="1" stop-color="#0f3a36"/></linearGradient>
<linearGradient id="gl_k" x1="0" y1="0" x2="0" y2="1"><stop offset="0" stop-color="#555"/><stop offset="1" stop-color="#1a1a1a"/></linearGradient>
<linearGradient id="gl_r" x1="0" y1="0" x2="0" y2="1"><stop offset="0" stop-color="#f04a40"/><stop offset="1" stop-color="#7a1010"/></linearGradient>
<linearGradient id="gl_b" x1="0" y1="0" x2="0" y2="1"><stop offset="0" stop-color="#2f70d0"/><stop offset="1" stop-color="#102c60"/></linearGradient>
<linearGradient id="gl_t" x1="0" y1="0" x2="0" y2="1"><stop offset="0" stop-color="#24887e"/><stop offset="1" stop-color="#114a44"/></linearGradient>
</defs>
<rect x="435.5" y="182.5" width="57.0" height="24.5" fill="url(#gbb25)"/>
<text x="459.5" y="173.708" font-size="17.6" fill="#1e1e1e" text-anchor="middle" font-weight="bold" >1.33</text>
<rect x="510.8" y="108.8" width="57.4" height="95.2" fill="url(#gbb50)"/>
<text x="538.7" y="99.98000000000003" font-size="17.6" fill="#1e1e1e" text-anchor="middle" font-weight="bold" >2.05</text>
<rect x="587" y="78.1" width="57.2" height="120.9" fill="url(#gbb75)"/>
<text x="612.5" y="69.26" font-size="17.6" fill="#1e1e1e" text-anchor="middle" font-weight="bold" >2.35</text>
<rect x="441" y="93.8" width="50" height="7" fill="url(#gBond)"/>
<circle cx="441" cy="97.3" r="13" fill="url(#gCo)"/>
<circle cx="491" cy="97.3" r="9.7" fill="url(#gO)"/>
<text x="440.5" y="101.6" font-size="12.6" fill="#dce6ff" text-anchor="middle" font-weight="bold">Co</text>
<text x="491" y="101.1" font-size="11.2" fill="#ffd8d8" text-anchor="middle" font-weight="bold">O</text>
<rect x="601" y="28.299999999999997" width="30.3" height="9" fill="url(#gBond)"/>
<circle cx="601" cy="32.8" r="12.5" fill="url(#gCo)"/>
<circle cx="631.3" cy="32.8" r="9.2" fill="url(#gO)"/>
<text x="600.5" y="37.099999999999994" font-size="12.1" fill="#dce6ff" text-anchor="middle" font-weight="bold">Co</text>
<text x="631.3" y="36.599999999999994" font-size="10.6" fill="#ffd8d8" text-anchor="middle" font-weight="bold">O</text>
<path d="M506.5,71 L538.5,56 L536.3,51 L549,54.5 L545,65.4 L542.8,60.5 L510.5,77.5 Z" fill="#f5a874"/>
<rect x="412.6" y="11.2" width="254.69999999999993" height="205.10000000000002" fill="none" stroke="#161616" stroke-width="3"/>
<line x1="409.1" y1="11.5" x2="412.6" y2="11.5" stroke="#161616" stroke-width="2"/>
<text x="406.2" y="16.4" font-size="16.5" fill="#161616" text-anchor="end" font-weight="bold" >3.0</text>
<line x1="409.1" y1="62.69999999999999" x2="412.6" y2="62.69999999999999" stroke="#161616" stroke-width="2"/>
<text x="406.2" y="67.6" font-size="16.5" fill="#161616" text-anchor="end" font-weight="bold" >2.5</text>
<line x1="409.1" y1="113.9" x2="412.6" y2="113.9" stroke="#161616" stroke-width="2"/>
<text x="406.2" y="118.80000000000001" font-size="16.5" fill="#161616" text-anchor="end" font-weight="bold" >2.0</text>
<line x1="409.1" y1="165.10000000000002" x2="412.6" y2="165.10000000000002" stroke="#161616" stroke-width="2"/>
<text x="406.2" y="170.00000000000003" font-size="16.5" fill="#161616" text-anchor="end" font-weight="bold" >1.5</text>
<line x1="409.1" y1="216.3" x2="412.6" y2="216.3" stroke="#161616" stroke-width="2"/>
<text x="406.2" y="221.20000000000002" font-size="16.5" fill="#161616" text-anchor="end" font-weight="bold" >1.0</text>
<line x1="410.6" y1="37.099999999999994" x2="412.6" y2="37.099999999999994" stroke="#161616" stroke-width="1.5"/>
<line x1="410.6" y1="88.30000000000001" x2="412.6" y2="88.30000000000001" stroke="#161616" stroke-width="1.5"/>
<line x1="410.6" y1="139.5" x2="412.6" y2="139.5" stroke="#161616" stroke-width="1.5"/>
<line x1="410.6" y1="190.70000000000002" x2="412.6" y2="190.70000000000002" stroke="#161616" stroke-width="1.5"/>
<text transform="translate(371.3,111) rotate(-90)" font-size="17.4" fill="#262626" text-anchor="middle" font-weight="bold">Integrated-COHP</text>
<text x="332.8" y="16.5" font-size="18" fill="#161616" text-anchor="start" font-weight="bold" >(b)</text>
<text x="463.5" y="251.5" font-size="17" fill="#464646" text-anchor="middle" font-weight="bold" >RP-Sr25</text>
<text x="539.8" y="251.5" font-size="17" fill="#df4550" text-anchor="middle" font-weight="bold" >RP-Sr50</text>
<text x="616.7" y="251.5" font-size="17" fill="#21897a" text-anchor="middle" font-weight="bold" >RP-Sr75</text>
<rect x="428" y="378.8" width="16" height="51.5" fill="url(#gd_k)"/>
<rect x="444" y="360.5" width="16" height="18.3" fill="url(#gd_r)"/>
<rect x="460" y="378.8" width="16" height="61.5" fill="url(#gd_b)"/>
<rect x="476" y="298.9" width="16" height="79.9" fill="url(#gd_t)"/>
<rect x="507.8" y="378.8" width="16" height="39.2" fill="url(#gd_k)"/>
<rect x="523.8" y="358.0" width="16" height="20.8" fill="url(#gd_r)"/>
<rect x="539.8" y="378.8" width="16" height="67.2" fill="url(#gd_b)"/>
<rect x="555.8" y="290.8" width="16" height="88.0" fill="url(#gd_t)"/>
<rect x="587.5" y="378.8" width="16" height="31.8" fill="url(#gd_k)"/>
<rect x="603.5" y="356.9" width="16" height="21.9" fill="url(#gd_r)"/>
<rect x="619.5" y="378.8" width="16" height="66.9" fill="url(#gd_b)"/>
<rect x="635.5" y="290.8" width="16" height="88.0" fill="url(#gd_t)"/>
<text x="436.3" y="444" font-size="13" fill="#4a4a4a" text-anchor="middle" font-weight="bold" >-3.009</text>
<text x="453.6" y="358.8" font-size="13" fill="#ea5a66" text-anchor="middle" font-weight="bold" >1.073</text>
<text x="467" y="455" font-size="13" fill="#3b72b4" text-anchor="middle" font-weight="bold" >-3.597</text>
<text x="485.3" y="297" font-size="13" fill="#24897e" text-anchor="middle" font-weight="bold" >4.670</text>
<text x="514.7" y="431.6" font-size="13" fill="#4a4a4a" text-anchor="middle" font-weight="bold" >-2.294</text>
<text x="532.1" y="356" font-size="13" fill="#ea5a66" text-anchor="middle" font-weight="bold" >1.218</text>
<text x="543" y="462" font-size="13" fill="#3b72b4" text-anchor="middle" font-weight="bold" >-3.929</text>
<text x="565.3" y="288.3" font-size="13" fill="#24897e" text-anchor="middle" font-weight="bold" >5.146</text>
<text x="595" y="426" font-size="13" fill="#4a4a4a" text-anchor="middle" font-weight="bold" >-1.862</text>
<text x="612.2" y="354.8" font-size="13" fill="#ea5a66" text-anchor="middle" font-weight="bold" >1.281</text>
<text x="628.3" y="463.4" font-size="13" fill="#3b72b4" text-anchor="middle" font-weight="bold" >-3.914</text>
<text x="645.2" y="288.3" font-size="13" fill="#24897e" text-anchor="middle" font-weight="bold" >5.149</text>
<rect x="416.5" y="271.2" width="22" height="10" fill="url(#gl_k)"/>
<text x="441" y="279.8" font-size="9.6" fill="#161616" text-anchor="start" font-weight="bold" letter-spacing="-0.1">O-2p band center</text>
<rect x="416.5" y="282.9" width="22" height="10" fill="url(#gl_r)"/>
<text x="441" y="291.5" font-size="9.6" fill="#161616" text-anchor="start" font-weight="bold" letter-spacing="-0.1">UHB</text>
<rect x="416.5" y="294.6" width="22" height="10" fill="url(#gl_b)"/>
<text x="441" y="303.2" font-size="9.6" fill="#161616" text-anchor="start" font-weight="bold" letter-spacing="-0.1">LHB</text>
<rect x="416.5" y="306.3" width="22" height="10" fill="url(#gl_t)"/>
<text x="441" y="314.9" font-size="9.6" fill="#161616" text-anchor="start" font-weight="bold" letter-spacing="-0.1">U</text>
<line x1="413" y1="378.8" x2="668" y2="378.8" stroke="#161616" stroke-width="3"/>
<rect x="413" y="268.5" width="255" height="205.5" fill="none" stroke="#161616" stroke-width="3"/>
<line x1="409.5" y1="276.2" x2="413" y2="276.2" stroke="#161616" stroke-width="2"/>
<text x="406" y="282.09999999999997" font-size="16.5" fill="#161616" text-anchor="end" font-weight="bold" >6</text>
<line x1="409.5" y1="310.4" x2="413" y2="310.4" stroke="#161616" stroke-width="2"/>
<text x="406" y="316.29999999999995" font-size="16.5" fill="#161616" text-anchor="end" font-weight="bold" >4</text>
<line x1="409.5" y1="344.6" x2="413" y2="344.6" stroke="#161616" stroke-width="2"/>
<text x="406" y="350.5" font-size="16.5" fill="#161616" text-anchor="end" font-weight="bold" >2</text>
<line x1="409.5" y1="378.8" x2="413" y2="378.8" stroke="#161616" stroke-width="2"/>
<text x="406" y="384.7" font-size="16.5" fill="#161616" text-anchor="end" font-weight="bold" >0</text>
<line x1="409.5" y1="413.0" x2="413" y2="413.0" stroke="#161616" stroke-width="2"/>
<text x="406" y="418.9" font-size="16.5" fill="#161616" text-anchor="end" font-weight="bold" >-2</text>
<line x1="409.5" y1="447.20000000000005" x2="413" y2="447.20000000000005" stroke="#161616" stroke-width="2"/>
<text x="406" y="453.1" font-size="16.5" fill="#161616" text-anchor="end" font-weight="bold" >-4</text>
<line x1="411" y1="293.3" x2="413" y2="293.3" stroke="#161616" stroke-width="1.5"/>
<line x1="411" y1="327.5" x2="413" y2="327.5" stroke="#161616" stroke-width="1.5"/>
<line x1="411" y1="361.7" x2="413" y2="361.7" stroke="#161616" stroke-width="1.5"/>
<line x1="411" y1="395.90000000000003" x2="413" y2="395.90000000000003" stroke="#161616" stroke-width="1.5"/>
<line x1="411" y1="430.1" x2="413" y2="430.1" stroke="#161616" stroke-width="1.5"/>
<line x1="411" y1="464.3" x2="413" y2="464.3" stroke="#161616" stroke-width="1.5"/>
<text transform="translate(372,371.8) rotate(-90)" font-size="17.5" fill="#262626" text-anchor="middle" font-weight="bold">Energy band diagrams (eV)</text>
<text x="333" y="273.5" font-size="18" fill="#161616" text-anchor="start" font-weight="bold" >(d)</text>
<text x="461" y="514.3" font-size="17" fill="#464646" text-anchor="middle" font-weight="bold" >RP-Sr25</text>
<text x="538.7" y="514.3" font-size="17" fill="#df4550" text-anchor="middle" font-weight="bold" >RP-Sr50</text>
<text x="617.1" y="514.3" font-size="17" fill="#21897a" text-anchor="middle" font-weight="bold" >RP-Sr75</text>
<rect x="92" y="577.3" width="57.2" height="134.7" fill="url(#gbe25)"/>
<text x="121.5" y="572.4532" font-size="17.6" fill="#1e1e1e" text-anchor="middle" font-weight="bold" >0.759 eV</text>
<rect x="168" y="648.3" width="56.8" height="69.7" fill="url(#gbe50)"/>
<text x="196.5" y="643.4524" font-size="17.6" fill="#1e1e1e" text-anchor="middle" font-weight="bold" >0.413 eV</text>
<rect x="243.5" y="695.4" width="57.5" height="28.6" fill="url(#gbe75)"/>
<text x="272" y="690.6484" font-size="17.6" fill="#1e1e1e" text-anchor="middle" font-weight="bold" >0.183 eV</text>
<rect x="69.4" y="527.6" width="253.99999999999997" height="205.39999999999998" fill="none" stroke="#161616" stroke-width="3"/>
<line x1="65.9" y1="527.8" x2="69.4" y2="527.8" stroke="#161616" stroke-width="2"/>
<text x="62.5" y="533.6999999999999" font-size="16.5" fill="#161616" text-anchor="end" font-weight="bold" >1.0</text>
<line x1="65.9" y1="630.4" x2="69.4" y2="630.4" stroke="#161616" stroke-width="2"/>
<text x="62.5" y="636.3" font-size="16.5" fill="#161616" text-anchor="end" font-weight="bold" >0.5</text>
<line x1="65.9" y1="733.0" x2="69.4" y2="733.0" stroke="#161616" stroke-width="2"/>
<text x="62.5" y="738.9" font-size="16.5" fill="#161616" text-anchor="end" font-weight="bold" >0.0</text>
<line x1="67.4" y1="579.1" x2="69.4" y2="579.1" stroke="#161616" stroke-width="1.5"/>
<line x1="67.4" y1="681.7" x2="69.4" y2="681.7" stroke="#161616" stroke-width="1.5"/>
<text transform="translate(30,676) rotate(-90)" font-size="17.3" fill="#161616" text-anchor="start" font-weight="bold">E<tspan font-size="11.5" dy="4" dx="1">f,vac</tspan><tspan dy="-4" dx="2"> (eV)</tspan></text>
<text x="13.4" y="533.8" font-size="18" fill="#161616" text-anchor="start" font-weight="bold" >(e)</text>
<text x="117.9" y="767" font-size="17" fill="#464646" text-anchor="middle" font-weight="bold" >RP-Sr25</text>
<text x="197.6" y="767" font-size="17" fill="#df4550" text-anchor="middle" font-weight="bold" >RP-Sr50</text>
<text x="274.2" y="767" font-size="17" fill="#21897a" text-anchor="middle" font-weight="bold" >RP-Sr75</text>
<defs>
<radialGradient id="gG" cx="0.5" cy="0.5" r="0.55" fx="0.45" fy="0.42"><stop offset="0" stop-color="#c0f0c0"/><stop offset="0.2" stop-color="#3aa83e"/><stop offset="0.6" stop-color="#1f8a26"/><stop offset="1" stop-color="#11581a"/></radialGradient>
<radialGradient id="gP" cx="0.45" cy="0.4" r="0.6" fx="0.38" fy="0.32"><stop offset="0" stop-color="#8a7ae0"/><stop offset="0.35" stop-color="#3a2aa8"/><stop offset="1" stop-color="#1a1068"/></radialGradient>
<radialGradient id="gY" cx="0.45" cy="0.4" r="0.6"><stop offset="0" stop-color="#fff27a"/><stop offset="1" stop-color="#e0c020"/></radialGradient>
<radialGradient id="gB2" cx="0.5" cy="0.5" r="0.55" fx="0.45" fy="0.42"><stop offset="0" stop-color="#b8c4ff"/><stop offset="0.18" stop-color="#3a50c8"/><stop offset="0.6" stop-color="#1a2a96"/><stop offset="1" stop-color="#0c1660"/></radialGradient>
</defs>
<rect x="585.8" y="531.8" width="78.20000000000005" height="62.90000000000009" fill="#f4faf9"/>
<line x1="606.4" y1="560" x2="606.4" y2="576" stroke="#2a3a9a" stroke-width="1.6"/>
<line x1="624.6" y1="563" x2="624.6" y2="577" stroke="#2a3a9a" stroke-width="1.6"/>
<line x1="642.8" y1="560" x2="642.8" y2="572" stroke="#2a3a9a" stroke-width="1.6"/>
<line x1="598" y1="560" x2="598" y2="572" stroke="#2a3a9a" stroke-width="1.6"/>
<line x1="615.5" y1="545" x2="615.5" y2="570" stroke="#9aa" stroke-width="1"/>
<line x1="633" y1="548" x2="633" y2="580" stroke="#9aa" stroke-width="1"/>
<line x1="615.3" y1="561.2" x2="620.4" y2="562.8" stroke="#f08070" stroke-width="1.5" stroke-linecap="round" opacity="0.85"/>
<circle cx="615.3" cy="561.2" r="1.4" fill="#e0382c"/>
<line x1="603.1" y1="586.1" x2="607.0" y2="587.0" stroke="#f08070" stroke-width="1.5" stroke-linecap="round" opacity="0.85"/>
<circle cx="603.1" cy="586.1" r="1.4" fill="#e0382c"/>
<line x1="627.6" y1="539.5" x2="622.2" y2="537.2" stroke="#f08070" stroke-width="1.5" stroke-linecap="round" opacity="0.85"/>
<circle cx="627.6" cy="539.5" r="1.8" fill="#e0382c"/>
<line x1="651.2" y1="586.9" x2="646.5" y2="590.5" stroke="#f08070" stroke-width="1.5" stroke-linecap="round" opacity="0.85"/>
<circle cx="651.2" cy="586.9" r="1.3" fill="#e0382c"/>
<line x1="615.7" y1="572.2" x2="611.4" y2="571.1" stroke="#f08070" stroke-width="1.5" stroke-linecap="round" opacity="0.85"/>
<circle cx="615.7" cy="572.2" r="1.7" fill="#e0382c"/>
<line x1="609.8" y1="587.0" x2="607.3" y2="584.1" stroke="#f08070" stroke-width="1.5" stroke-linecap="round" opacity="0.85"/>
<circle cx="609.8" cy="587.0" r="1.7" fill="#e0382c"/>
<line x1="628.2" y1="544.0" x2="623.9" y2="544.1" stroke="#f08070" stroke-width="1.5" stroke-linecap="round" opacity="0.85"/>
<circle cx="628.2" cy="544.0" r="1.9" fill="#e0382c"/>
<line x1="639.7" y1="559.6" x2="638.1" y2="564.7" stroke="#f08070" stroke-width="1.5" stroke-linecap="round" opacity="0.85"/>
<circle cx="639.7" cy="559.6" r="1.9" fill="#e0382c"/>
<line x1="604.1" y1="541.4" x2="600.4" y2="541.5" stroke="#f08070" stroke-width="1.5" stroke-linecap="round" opacity="0.85"/>
<circle cx="604.1" cy="541.4" r="1.7" fill="#e0382c"/>
<line x1="652.9" y1="581.4" x2="648.4" y2="584.0" stroke="#f08070" stroke-width="1.5" stroke-linecap="round" opacity="0.85"/>
<circle cx="652.9" cy="581.4" r="1.4" fill="#e0382c"/>
<line x1="636.4" y1="563.7" x2="640.4" y2="565.8" stroke="#f08070" stroke-width="1.5" stroke-linecap="round" opacity="0.85"/>
<circle cx="636.4" cy="563.7" r="1.9" fill="#e0382c"/>
<line x1="620.8" y1="575.0" x2="617.0" y2="572.4" stroke="#f08070" stroke-width="1.5" stroke-linecap="round" opacity="0.85"/>
<circle cx="620.8" cy="575.0" r="1.7" fill="#e0382c"/>
<line x1="614.6" y1="570.7" x2="613.7" y2="568.1" stroke="#f08070" stroke-width="1.5" stroke-linecap="round" opacity="0.85"/>
<circle cx="614.6" cy="570.7" r="1.9" fill="#e0382c"/>
<line x1="611.1" y1="565.9" x2="612.6" y2="562.8" stroke="#f08070" stroke-width="1.5" stroke-linecap="round" opacity="0.85"/>
<circle cx="611.1" cy="565.9" r="1.6" fill="#e0382c"/>
<line x1="618.7" y1="591.3" x2="615.9" y2="594.9" stroke="#f08070" stroke-width="1.5" stroke-linecap="round" opacity="0.85"/>
<circle cx="618.7" cy="591.3" r="1.7" fill="#e0382c"/>
<line x1="638.4" y1="540.0" x2="638.5" y2="543.9" stroke="#f08070" stroke-width="1.5" stroke-linecap="round" opacity="0.85"/>
<circle cx="638.4" cy="540.0" r="2.0" fill="#e0382c"/>
<line x1="608.3" y1="542.2" x2="607.8" y2="545.1" stroke="#f08070" stroke-width="1.5" stroke-linecap="round" opacity="0.85"/>
<circle cx="608.3" cy="542.2" r="1.6" fill="#e0382c"/>
<line x1="615.0" y1="585.0" x2="611.5" y2="589.3" stroke="#f08070" stroke-width="1.5" stroke-linecap="round" opacity="0.85"/>
<circle cx="615.0" cy="585.0" r="2.1" fill="#e0382c"/>
<line x1="604.1" y1="540.2" x2="602.8" y2="538.1" stroke="#f08070" stroke-width="1.5" stroke-linecap="round" opacity="0.85"/>
<circle cx="604.1" cy="540.2" r="2.0" fill="#e0382c"/>
<line x1="613.1" y1="539.0" x2="609.8" y2="540.9" stroke="#f08070" stroke-width="1.5" stroke-linecap="round" opacity="0.85"/>
<circle cx="613.1" cy="539.0" r="1.8" fill="#e0382c"/>
<line x1="634.5" y1="543.1" x2="630.9" y2="539.9" stroke="#f08070" stroke-width="1.5" stroke-linecap="round" opacity="0.85"/>
<circle cx="634.5" cy="543.1" r="1.3" fill="#e0382c"/>
<line x1="633.8" y1="576.7" x2="635.0" y2="573.0" stroke="#f08070" stroke-width="1.5" stroke-linecap="round" opacity="0.85"/>
<circle cx="633.8" cy="576.7" r="1.6" fill="#e0382c"/>
<line x1="624.1" y1="542.2" x2="626.2" y2="547.7" stroke="#f08070" stroke-width="1.5" stroke-linecap="round" opacity="0.85"/>
<circle cx="624.1" cy="542.2" r="1.7" fill="#e0382c"/>
<line x1="617.0" y1="539.4" x2="620.0" y2="539.4" stroke="#f08070" stroke-width="1.5" stroke-linecap="round" opacity="0.85"/>
<circle cx="617.0" cy="539.4" r="1.4" fill="#e0382c"/>
<line x1="610.6" y1="558.6" x2="611.6" y2="562.2" stroke="#f08070" stroke-width="1.5" stroke-linecap="round" opacity="0.85"/>
<circle cx="610.6" cy="558.6" r="1.8" fill="#e0382c"/>
<line x1="610.4" y1="561.8" x2="613.6" y2="564.6" stroke="#f08070" stroke-width="1.5" stroke-linecap="round" opacity="0.85"/>
<circle cx="610.4" cy="561.8" r="2.1" fill="#e0382c"/>
<line x1="637.7" y1="556.7" x2="640.6" y2="558.9" stroke="#f08070" stroke-width="1.5" stroke-linecap="round" opacity="0.85"/>
<circle cx="637.7" cy="556.7" r="1.5" fill="#e0382c"/>
<line x1="631.4" y1="573.2" x2="633.0" y2="578.8" stroke="#f08070" stroke-width="1.5" stroke-linecap="round" opacity="0.85"/>
<circle cx="631.4" cy="573.2" r="1.6" fill="#e0382c"/>
<line x1="629.3" y1="580.3" x2="623.5" y2="579.3" stroke="#f08070" stroke-width="1.5" stroke-linecap="round" opacity="0.85"/>
<circle cx="629.3" cy="580.3" r="2.0" fill="#e0382c"/>
<line x1="645.7" y1="586.2" x2="648.8" y2="584.2" stroke="#f08070" stroke-width="1.5" stroke-linecap="round" opacity="0.85"/>
<circle cx="645.7" cy="586.2" r="1.5" fill="#e0382c"/>
<line x1="642.1" y1="584.0" x2="643.0" y2="589.2" stroke="#f08070" stroke-width="1.5" stroke-linecap="round" opacity="0.85"/>
<circle cx="642.1" cy="584.0" r="2.1" fill="#e0382c"/>
<line x1="617.5" y1="570.4" x2="613.2" y2="573.5" stroke="#f08070" stroke-width="1.5" stroke-linecap="round" opacity="0.85"/>
<circle cx="617.5" cy="570.4" r="1.5" fill="#e0382c"/>
<line x1="635.1" y1="556.2" x2="638.5" y2="556.8" stroke="#f08070" stroke-width="1.5" stroke-linecap="round" opacity="0.85"/>
<circle cx="635.1" cy="556.2" r="1.5" fill="#e0382c"/>
<line x1="632.7" y1="584.1" x2="634.5" y2="579.4" stroke="#f08070" stroke-width="1.5" stroke-linecap="round" opacity="0.85"/>
<circle cx="632.7" cy="584.1" r="1.6" fill="#e0382c"/>
<line x1="603.1" y1="558.8" x2="599.5" y2="559.5" stroke="#f08070" stroke-width="1.5" stroke-linecap="round" opacity="0.85"/>
<circle cx="603.1" cy="558.8" r="1.7" fill="#e0382c"/>
<line x1="645.4" y1="585.8" x2="642.3" y2="581.4" stroke="#f08070" stroke-width="1.5" stroke-linecap="round" opacity="0.85"/>
<circle cx="645.4" cy="585.8" r="1.4" fill="#e0382c"/>
<line x1="606.5" y1="584.7" x2="605.7" y2="581.6" stroke="#f08070" stroke-width="1.5" stroke-linecap="round" opacity="0.85"/>
<circle cx="606.5" cy="584.7" r="2.0" fill="#e0382c"/>
<line x1="643.8" y1="558.7" x2="645.6" y2="553.1" stroke="#f08070" stroke-width="1.5" stroke-linecap="round" opacity="0.85"/>
<circle cx="643.8" cy="558.7" r="1.6" fill="#e0382c"/>
<line x1="642.9" y1="556.7" x2="646.1" y2="561.7" stroke="#f08070" stroke-width="1.5" stroke-linecap="round" opacity="0.85"/>
<circle cx="642.9" cy="556.7" r="1.3" fill="#e0382c"/>
<line x1="648.9" y1="589.7" x2="652.1" y2="594.0" stroke="#f08070" stroke-width="1.5" stroke-linecap="round" opacity="0.85"/>
<circle cx="648.9" cy="589.7" r="2.1" fill="#e0382c"/>
<line x1="650.6" y1="581.9" x2="648.2" y2="581.1" stroke="#f08070" stroke-width="1.5" stroke-linecap="round" opacity="0.85"/>
<circle cx="650.6" cy="581.9" r="1.9" fill="#e0382c"/>
<line x1="635.1" y1="586.3" x2="638.8" y2="584.7" stroke="#f08070" stroke-width="1.5" stroke-linecap="round" opacity="0.85"/>
<circle cx="635.1" cy="586.3" r="2.0" fill="#e0382c"/>
<line x1="636.5" y1="568.3" x2="637.5" y2="572.4" stroke="#f08070" stroke-width="1.5" stroke-linecap="round" opacity="0.85"/>
<circle cx="636.5" cy="568.3" r="1.9" fill="#e0382c"/>
<line x1="605.6" y1="561.4" x2="609.5" y2="565.5" stroke="#f08070" stroke-width="1.5" stroke-linecap="round" opacity="0.85"/>
<circle cx="605.6" cy="561.4" r="1.6" fill="#e0382c"/>
<line x1="641.2" y1="562.5" x2="635.9" y2="562.0" stroke="#f08070" stroke-width="1.5" stroke-linecap="round" opacity="0.85"/>
<circle cx="641.2" cy="562.5" r="2.0" fill="#e0382c"/>
<line x1="626.6" y1="543.2" x2="630.6" y2="543.7" stroke="#f08070" stroke-width="1.5" stroke-linecap="round" opacity="0.85"/>
<circle cx="626.6" cy="543.2" r="1.4" fill="#e0382c"/>
<line x1="638.8" y1="540.2" x2="641.7" y2="543.8" stroke="#f08070" stroke-width="1.5" stroke-linecap="round" opacity="0.85"/>
<circle cx="638.8" cy="540.2" r="1.4" fill="#e0382c"/>
<line x1="616.3" y1="543.1" x2="611.4" y2="541.4" stroke="#f08070" stroke-width="1.5" stroke-linecap="round" opacity="0.85"/>
<circle cx="616.3" cy="543.1" r="1.4" fill="#e0382c"/>
<line x1="603.1" y1="582.3" x2="605.8" y2="583.0" stroke="#f08070" stroke-width="1.5" stroke-linecap="round" opacity="0.85"/>
<circle cx="603.1" cy="582.3" r="1.7" fill="#e0382c"/>
<line x1="638.0" y1="546.3" x2="633.7" y2="547.9" stroke="#f08070" stroke-width="1.5" stroke-linecap="round" opacity="0.85"/>
<circle cx="638.0" cy="546.3" r="1.7" fill="#e0382c"/>
<line x1="610.8" y1="583.3" x2="605.4" y2="583.1" stroke="#f08070" stroke-width="1.5" stroke-linecap="round" opacity="0.85"/>
<circle cx="610.8" cy="583.3" r="1.7" fill="#e0382c"/>
<line x1="635.0" y1="546.0" x2="638.1" y2="544.8" stroke="#f08070" stroke-width="1.5" stroke-linecap="round" opacity="0.85"/>
<circle cx="635.0" cy="546.0" r="1.7" fill="#e0382c"/>
<line x1="642.0" y1="540.1" x2="644.9" y2="542.9" stroke="#f08070" stroke-width="1.5" stroke-linecap="round" opacity="0.85"/>
<circle cx="642.0" cy="540.1" r="1.4" fill="#e0382c"/>
<line x1="621.4" y1="540.7" x2="620.5" y2="543.5" stroke="#f08070" stroke-width="1.5" stroke-linecap="round" opacity="0.85"/>
<circle cx="621.4" cy="540.7" r="1.9" fill="#e0382c"/>
<line x1="634.7" y1="584.4" x2="634.7" y2="587.4" stroke="#f08070" stroke-width="1.5" stroke-linecap="round" opacity="0.85"/>
<circle cx="634.7" cy="584.4" r="1.7" fill="#e0382c"/>
<line x1="651.4" y1="584.8" x2="645.5" y2="585.3" stroke="#f08070" stroke-width="1.5" stroke-linecap="round" opacity="0.85"/>
<circle cx="651.4" cy="584.8" r="2.0" fill="#e0382c"/>
<line x1="635.3" y1="547.0" x2="632.0" y2="549.2" stroke="#f08070" stroke-width="1.5" stroke-linecap="round" opacity="0.85"/>
<circle cx="635.3" cy="547.0" r="1.6" fill="#e0382c"/>
<line x1="636.1" y1="539.2" x2="632.3" y2="537.8" stroke="#f08070" stroke-width="1.5" stroke-linecap="round" opacity="0.85"/>
<circle cx="636.1" cy="539.2" r="1.3" fill="#e0382c"/>
<line x1="609.2" y1="560.4" x2="612.0" y2="559.6" stroke="#f08070" stroke-width="1.5" stroke-linecap="round" opacity="0.85"/>
<circle cx="609.2" cy="560.4" r="2.0" fill="#e0382c"/>
<line x1="648.6" y1="539.8" x2="648.3" y2="542.5" stroke="#f08070" stroke-width="1.5" stroke-linecap="round" opacity="0.85"/>
<circle cx="648.6" cy="539.8" r="1.9" fill="#e0382c"/>
<line x1="612.6" y1="564.6" x2="615.4" y2="560.6" stroke="#f08070" stroke-width="1.5" stroke-linecap="round" opacity="0.85"/>
<circle cx="612.6" cy="564.6" r="2.1" fill="#e0382c"/>
<line x1="631.0" y1="563.4" x2="626.5" y2="561.2" stroke="#f08070" stroke-width="1.5" stroke-linecap="round" opacity="0.85"/>
<circle cx="631.0" cy="563.4" r="1.4" fill="#e0382c"/>
<line x1="640.0" y1="540.5" x2="642.7" y2="538.4" stroke="#f08070" stroke-width="1.5" stroke-linecap="round" opacity="0.85"/>
<circle cx="640.0" cy="540.5" r="1.3" fill="#e0382c"/>
<line x1="640.1" y1="539.7" x2="641.8" y2="537.5" stroke="#f08070" stroke-width="1.5" stroke-linecap="round" opacity="0.85"/>
<circle cx="640.1" cy="539.7" r="2.0" fill="#e0382c"/>
<line x1="628.2" y1="564.0" x2="623.3" y2="566.8" stroke="#f08070" stroke-width="1.5" stroke-linecap="round" opacity="0.85"/>
<circle cx="628.2" cy="564.0" r="1.8" fill="#e0382c"/>
<line x1="626.3" y1="540.9" x2="628.7" y2="542.9" stroke="#f08070" stroke-width="1.5" stroke-linecap="round" opacity="0.85"/>
<circle cx="626.3" cy="540.9" r="1.3" fill="#e0382c"/>
<line x1="646.6" y1="544.0" x2="643.5" y2="543.4" stroke="#f08070" stroke-width="1.5" stroke-linecap="round" opacity="0.85"/>
<circle cx="646.6" cy="544.0" r="1.7" fill="#e0382c"/>
<line x1="609.6" y1="584.2" x2="613.0" y2="584.5" stroke="#f08070" stroke-width="1.5" stroke-linecap="round" opacity="0.85"/>
<circle cx="609.6" cy="584.2" r="1.3" fill="#e0382c"/>
<line x1="627.3" y1="591.7" x2="624.0" y2="591.4" stroke="#f08070" stroke-width="1.5" stroke-linecap="round" opacity="0.85"/>
<circle cx="627.3" cy="591.7" r="1.7" fill="#e0382c"/>
<line x1="644.2" y1="585.2" x2="638.8" y2="585.4" stroke="#f08070" stroke-width="1.5" stroke-linecap="round" opacity="0.85"/>
<circle cx="644.2" cy="585.2" r="1.6" fill="#e0382c"/>
<line x1="616.6" y1="582.6" x2="617.0" y2="585.8" stroke="#f08070" stroke-width="1.5" stroke-linecap="round" opacity="0.85"/>
<circle cx="616.6" cy="582.6" r="2.0" fill="#e0382c"/>
<line x1="634.3" y1="584.9" x2="632.8" y2="587.1" stroke="#f08070" stroke-width="1.5" stroke-linecap="round" opacity="0.85"/>
<circle cx="634.3" cy="584.9" r="1.4" fill="#e0382c"/>
<line x1="631.3" y1="546.0" x2="628.8" y2="547.2" stroke="#f08070" stroke-width="1.5" stroke-linecap="round" opacity="0.85"/>
<circle cx="631.3" cy="546.0" r="1.8" fill="#e0382c"/>
<line x1="645.4" y1="561.4" x2="644.7" y2="564.6" stroke="#f08070" stroke-width="1.5" stroke-linecap="round" opacity="0.85"/>
<circle cx="645.4" cy="561.4" r="1.5" fill="#e0382c"/>
<line x1="631.7" y1="558.2" x2="635.5" y2="558.2" stroke="#f08070" stroke-width="1.5" stroke-linecap="round" opacity="0.85"/>
<circle cx="631.7" cy="558.2" r="1.6" fill="#e0382c"/>
<line x1="617.5" y1="580.4" x2="619.9" y2="578.2" stroke="#f08070" stroke-width="1.5" stroke-linecap="round" opacity="0.85"/>
<circle cx="617.5" cy="580.4" r="1.4" fill="#e0382c"/>
<line x1="607.3" y1="561.8" x2="604.1" y2="561.7" stroke="#f08070" stroke-width="1.5" stroke-linecap="round" opacity="0.85"/>
<circle cx="607.3" cy="561.8" r="1.7" fill="#e0382c"/>
<line x1="604.5" y1="545.5" x2="607.4" y2="549.1" stroke="#f08070" stroke-width="1.5" stroke-linecap="round" opacity="0.85"/>
<circle cx="604.5" cy="545.5" r="1.6" fill="#e0382c"/>
<line x1="606.3" y1="559.9" x2="602.5" y2="557.6" stroke="#f08070" stroke-width="1.5" stroke-linecap="round" opacity="0.85"/>
<circle cx="606.3" cy="559.9" r="1.9" fill="#e0382c"/>
<line x1="648.2" y1="589.4" x2="644.0" y2="586.5" stroke="#f08070" stroke-width="1.5" stroke-linecap="round" opacity="0.85"/>
<circle cx="648.2" cy="589.4" r="1.9" fill="#e0382c"/>
<path d="M640,545 L635.5,549 L640.5,553 L635,557.5 L639,561.5 L634,566.5" stroke="#f3e45a" stroke-width="2.6" fill="none" stroke-linecap="round" stroke-linejoin="round" opacity="0.85"/>
<circle cx="615.8" cy="574.1" r="4.6" fill="url(#gG)"/>
<circle cx="633.4" cy="583.5" r="5.6" fill="url(#gG)"/>
<circle cx="608.1" cy="552.9" r="4.8" fill="url(#gB2)"/>
<circle cx="598.1" cy="555.9" r="6.5" fill="url(#gB2)"/>
<circle cx="624.6" cy="557.6" r="7" fill="url(#gB2)"/>
<circle cx="606.4" cy="579.4" r="6.5" fill="url(#gB2)"/>
<circle cx="642.8" cy="576.5" r="6.3" fill="url(#gB2)"/>
<circle cx="615.2" cy="541.2" r="2.6" fill="#fff" fill-opacity="0.6" stroke="#999" stroke-width="0.9"/>
<circle cx="642.8" cy="544" r="2.6" fill="#fff" fill-opacity="0.6" stroke="#999" stroke-width="0.9"/>
<circle cx="651.6" cy="592.4" r="2.6" fill="#fff" fill-opacity="0.6" stroke="#999" stroke-width="0.9"/>
<circle cx="634" cy="546" r="2.6" fill="#fff" fill-opacity="0.6" stroke="#999" stroke-width="0.9"/>
<rect x="585.8" y="531.8" width="78.20000000000005" height="62.90000000000009" fill="none" stroke="#3a9a8a" stroke-width="2" stroke-dasharray="4.2,2.6"/>
<line x1="593.7" y1="605" x2="611" y2="605" stroke="#21897a" stroke-width="1.8"/>
<text x="612" y="609" font-size="11.4" fill="#2a8c80" text-anchor="start" font-weight="bold" >RP-Sr75</text>
<rect x="417.8" y="666.3" width="78.19999999999999" height="62.700000000000045" fill="#f4f5f5"/>
<line x1="433" y1="695" x2="433" y2="712" stroke="#4a6" stroke-width="1.6"/>
<line x1="457.8" y1="697" x2="457.8" y2="712" stroke="#4a6" stroke-width="1.6"/>
<line x1="475.4" y1="690" x2="475.4" y2="705" stroke="#4a6" stroke-width="1.6"/>
<line x1="432.7" y1="725.1" x2="431.0" y2="723.0" stroke="#f08070" stroke-width="1.5" stroke-linecap="round" opacity="0.85"/>
<circle cx="432.7" cy="725.1" r="2.0" fill="#e0382c"/>
<line x1="460.4" y1="725.1" x2="461.5" y2="722.4" stroke="#f08070" stroke-width="1.5" stroke-linecap="round" opacity="0.85"/>
<circle cx="460.4" cy="725.1" r="1.7" fill="#e0382c"/>
<line x1="457.0" y1="725.7" x2="461.8" y2="726.2" stroke="#f08070" stroke-width="1.5" stroke-linecap="round" opacity="0.85"/>
<circle cx="457.0" cy="725.7" r="1.9" fill="#e0382c"/>
<line x1="466.6" y1="705.5" x2="466.9" y2="708.1" stroke="#f08070" stroke-width="1.5" stroke-linecap="round" opacity="0.85"/>
<circle cx="466.6" cy="705.5" r="1.4" fill="#e0382c"/>
<line x1="449.3" y1="693.9" x2="446.7" y2="694.7" stroke="#f08070" stroke-width="1.5" stroke-linecap="round" opacity="0.85"/>
<circle cx="449.3" cy="693.9" r="1.3" fill="#e0382c"/>
<line x1="463.5" y1="723.4" x2="468.8" y2="723.5" stroke="#f08070" stroke-width="1.5" stroke-linecap="round" opacity="0.85"/>
<circle cx="463.5" cy="723.4" r="1.9" fill="#e0382c"/>
<line x1="476.1" y1="720.6" x2="471.0" y2="719.8" stroke="#f08070" stroke-width="1.5" stroke-linecap="round" opacity="0.85"/>
<circle cx="476.1" cy="720.6" r="1.7" fill="#e0382c"/>
<line x1="483.1" y1="677.9" x2="483.2" y2="674.6" stroke="#f08070" stroke-width="1.5" stroke-linecap="round" opacity="0.85"/>
<circle cx="483.1" cy="677.9" r="1.8" fill="#e0382c"/>
<line x1="452.6" y1="722.7" x2="447.8" y2="723.3" stroke="#f08070" stroke-width="1.5" stroke-linecap="round" opacity="0.85"/>
<circle cx="452.6" cy="722.7" r="1.9" fill="#e0382c"/>
<line x1="460.7" y1="721.4" x2="457.7" y2="719.2" stroke="#f08070" stroke-width="1.5" stroke-linecap="round" opacity="0.85"/>
<circle cx="460.7" cy="721.4" r="1.8" fill="#e0382c"/>
<line x1="460.2" y1="704.5" x2="462.9" y2="704.8" stroke="#f08070" stroke-width="1.5" stroke-linecap="round" opacity="0.85"/>
<circle cx="460.2" cy="704.5" r="1.5" fill="#e0382c"/>
<line x1="456.7" y1="701.7" x2="451.7" y2="702.1" stroke="#f08070" stroke-width="1.5" stroke-linecap="round" opacity="0.85"/>
<circle cx="456.7" cy="701.7" r="1.5" fill="#e0382c"/>
<line x1="451.0" y1="720.8" x2="453.6" y2="718.8" stroke="#f08070" stroke-width="1.5" stroke-linecap="round" opacity="0.85"/>
<circle cx="451.0" cy="720.8" r="2.1" fill="#e0382c"/>
<line x1="425.0" y1="723.2" x2="427.5" y2="717.9" stroke="#f08070" stroke-width="1.5" stroke-linecap="round" opacity="0.85"/>
<circle cx="425.0" cy="723.2" r="1.7" fill="#e0382c"/>
<line x1="439.0" y1="696.6" x2="441.5" y2="695.4" stroke="#f08070" stroke-width="1.5" stroke-linecap="round" opacity="0.85"/>
<circle cx="439.0" cy="696.6" r="1.4" fill="#e0382c"/>
<line x1="463.9" y1="707.6" x2="467.5" y2="711.6" stroke="#f08070" stroke-width="1.5" stroke-linecap="round" opacity="0.85"/>
<circle cx="463.9" cy="707.6" r="1.7" fill="#e0382c"/>
<line x1="476.7" y1="677.9" x2="480.0" y2="675.3" stroke="#f08070" stroke-width="1.5" stroke-linecap="round" opacity="0.85"/>
<circle cx="476.7" cy="677.9" r="1.3" fill="#e0382c"/>
<line x1="487.7" y1="681.5" x2="483.6" y2="684.3" stroke="#f08070" stroke-width="1.5" stroke-linecap="round" opacity="0.85"/>
<circle cx="487.7" cy="681.5" r="1.6" fill="#e0382c"/>
<line x1="442.3" y1="725.9" x2="447.5" y2="725.9" stroke="#f08070" stroke-width="1.5" stroke-linecap="round" opacity="0.85"/>
<circle cx="442.3" cy="725.9" r="2.0" fill="#e0382c"/>
<line x1="487.3" y1="677.6" x2="492.4" y2="677.9" stroke="#f08070" stroke-width="1.5" stroke-linecap="round" opacity="0.85"/>
<circle cx="487.3" cy="677.6" r="1.5" fill="#e0382c"/>
<line x1="462.7" y1="684.0" x2="459.5" y2="682.0" stroke="#f08070" stroke-width="1.5" stroke-linecap="round" opacity="0.85"/>
<circle cx="462.7" cy="684.0" r="1.6" fill="#e0382c"/>
<line x1="447.4" y1="693.4" x2="451.9" y2="694.9" stroke="#f08070" stroke-width="1.5" stroke-linecap="round" opacity="0.85"/>
<circle cx="447.4" cy="693.4" r="1.8" fill="#e0382c"/>
<line x1="456.2" y1="678.1" x2="453.1" y2="677.9" stroke="#f08070" stroke-width="1.5" stroke-linecap="round" opacity="0.85"/>
<circle cx="456.2" cy="678.1" r="1.6" fill="#e0382c"/>
<line x1="475.3" y1="725.7" x2="471.4" y2="721.5" stroke="#f08070" stroke-width="1.5" stroke-linecap="round" opacity="0.85"/>
<circle cx="475.3" cy="725.7" r="2.1" fill="#e0382c"/>
<line x1="435.8" y1="720.6" x2="439.4" y2="719.0" stroke="#f08070" stroke-width="1.5" stroke-linecap="round" opacity="0.85"/>
<circle cx="435.8" cy="720.6" r="1.8" fill="#e0382c"/>
<line x1="474.0" y1="678.3" x2="479.5" y2="680.0" stroke="#f08070" stroke-width="1.5" stroke-linecap="round" opacity="0.85"/>
<circle cx="474.0" cy="678.3" r="1.4" fill="#e0382c"/>
<line x1="448.1" y1="722.0" x2="447.9" y2="727.1" stroke="#f08070" stroke-width="1.5" stroke-linecap="round" opacity="0.85"/>
<circle cx="448.1" cy="722.0" r="1.8" fill="#e0382c"/>
<line x1="462.0" y1="722.1" x2="458.4" y2="720.7" stroke="#f08070" stroke-width="1.5" stroke-linecap="round" opacity="0.85"/>
<circle cx="462.0" cy="722.1" r="1.4" fill="#e0382c"/>
<line x1="448.4" y1="680.0" x2="450.0" y2="675.9" stroke="#f08070" stroke-width="1.5" stroke-linecap="round" opacity="0.85"/>
<circle cx="448.4" cy="680.0" r="1.7" fill="#e0382c"/>
<line x1="449.9" y1="694.2" x2="452.0" y2="696.7" stroke="#f08070" stroke-width="1.5" stroke-linecap="round" opacity="0.85"/>
<circle cx="449.9" cy="694.2" r="1.4" fill="#e0382c"/>
<line x1="442.0" y1="693.6" x2="438.4" y2="697.5" stroke="#f08070" stroke-width="1.5" stroke-linecap="round" opacity="0.85"/>
<circle cx="442.0" cy="693.6" r="1.5" fill="#e0382c"/>
<line x1="478.7" y1="679.3" x2="475.0" y2="681.5" stroke="#f08070" stroke-width="1.5" stroke-linecap="round" opacity="0.85"/>
<circle cx="478.7" cy="679.3" r="1.6" fill="#e0382c"/>
<line x1="445.5" y1="694.5" x2="442.2" y2="692.8" stroke="#f08070" stroke-width="1.5" stroke-linecap="round" opacity="0.85"/>
<circle cx="445.5" cy="694.5" r="1.8" fill="#e0382c"/>
<line x1="460.5" y1="726.0" x2="461.3" y2="729.4" stroke="#f08070" stroke-width="1.5" stroke-linecap="round" opacity="0.85"/>
<circle cx="460.5" cy="726.0" r="1.5" fill="#e0382c"/>
<line x1="461.5" y1="723.0" x2="459.4" y2="728.0" stroke="#f08070" stroke-width="1.5" stroke-linecap="round" opacity="0.85"/>
<circle cx="461.5" cy="723.0" r="2.1" fill="#e0382c"/>
<line x1="446.5" y1="681.7" x2="449.7" y2="679.1" stroke="#f08070" stroke-width="1.5" stroke-linecap="round" opacity="0.85"/>
<circle cx="446.5" cy="681.7" r="1.8" fill="#e0382c"/>
<line x1="448.3" y1="683.4" x2="452.2" y2="681.5" stroke="#f08070" stroke-width="1.5" stroke-linecap="round" opacity="0.85"/>
<circle cx="448.3" cy="683.4" r="1.7" fill="#e0382c"/>
<line x1="438.4" y1="720.8" x2="440.9" y2="724.3" stroke="#f08070" stroke-width="1.5" stroke-linecap="round" opacity="0.85"/>
<circle cx="438.4" cy="720.8" r="1.8" fill="#e0382c"/>
<line x1="466.9" y1="706.8" x2="469.1" y2="705.0" stroke="#f08070" stroke-width="1.5" stroke-linecap="round" opacity="0.85"/>
<circle cx="466.9" cy="706.8" r="1.9" fill="#e0382c"/>
<line x1="480.2" y1="677.9" x2="484.4" y2="675.6" stroke="#f08070" stroke-width="1.5" stroke-linecap="round" opacity="0.85"/>
<circle cx="480.2" cy="677.9" r="1.5" fill="#e0382c"/>
<line x1="473.2" y1="680.2" x2="468.4" y2="682.2" stroke="#f08070" stroke-width="1.5" stroke-linecap="round" opacity="0.85"/>
<circle cx="473.2" cy="680.2" r="1.4" fill="#e0382c"/>
<line x1="441.4" y1="694.9" x2="438.9" y2="697.0" stroke="#f08070" stroke-width="1.5" stroke-linecap="round" opacity="0.85"/>
<circle cx="441.4" cy="694.9" r="1.8" fill="#e0382c"/>
<line x1="469.2" y1="684.0" x2="468.5" y2="687.5" stroke="#f08070" stroke-width="1.5" stroke-linecap="round" opacity="0.85"/>
<circle cx="469.2" cy="684.0" r="2.0" fill="#e0382c"/>
<line x1="466.4" y1="677.9" x2="466.5" y2="683.7" stroke="#f08070" stroke-width="1.5" stroke-linecap="round" opacity="0.85"/>
<circle cx="466.4" cy="677.9" r="1.9" fill="#e0382c"/>
<line x1="433.0" y1="693.0" x2="436.6" y2="689.8" stroke="#f08070" stroke-width="1.5" stroke-linecap="round" opacity="0.85"/>
<circle cx="433.0" cy="693.0" r="1.4" fill="#e0382c"/>
<line x1="475.0" y1="683.4" x2="475.4" y2="686.0" stroke="#f08070" stroke-width="1.5" stroke-linecap="round" opacity="0.85"/>
<circle cx="475.0" cy="683.4" r="1.6" fill="#e0382c"/>
<line x1="445.0" y1="722.8" x2="448.5" y2="722.9" stroke="#f08070" stroke-width="1.5" stroke-linecap="round" opacity="0.85"/>
<circle cx="445.0" cy="722.8" r="2.0" fill="#e0382c"/>
<line x1="454.2" y1="683.8" x2="452.2" y2="688.7" stroke="#f08070" stroke-width="1.5" stroke-linecap="round" opacity="0.85"/>
<circle cx="454.2" cy="683.8" r="1.5" fill="#e0382c"/>
<line x1="456.9" y1="683.1" x2="460.6" y2="686.1" stroke="#f08070" stroke-width="1.5" stroke-linecap="round" opacity="0.85"/>
<circle cx="456.9" cy="683.1" r="1.8" fill="#e0382c"/>
<line x1="466.8" y1="683.3" x2="471.1" y2="684.9" stroke="#f08070" stroke-width="1.5" stroke-linecap="round" opacity="0.85"/>
<circle cx="466.8" cy="683.3" r="2.0" fill="#e0382c"/>
<line x1="454.6" y1="683.8" x2="456.3" y2="685.9" stroke="#f08070" stroke-width="1.5" stroke-linecap="round" opacity="0.85"/>
<circle cx="454.6" cy="683.8" r="1.3" fill="#e0382c"/>
<line x1="450.1" y1="725.0" x2="448.9" y2="727.6" stroke="#f08070" stroke-width="1.5" stroke-linecap="round" opacity="0.85"/>
<circle cx="450.1" cy="725.0" r="1.4" fill="#e0382c"/>
<line x1="459.8" y1="677.5" x2="464.5" y2="675.5" stroke="#f08070" stroke-width="1.5" stroke-linecap="round" opacity="0.85"/>
<circle cx="459.8" cy="677.5" r="1.3" fill="#e0382c"/>
<line x1="467.3" y1="706.7" x2="471.4" y2="706.3" stroke="#f08070" stroke-width="1.5" stroke-linecap="round" opacity="0.85"/>
<circle cx="467.3" cy="706.7" r="1.4" fill="#e0382c"/>
<line x1="457.6" y1="678.8" x2="460.4" y2="678.0" stroke="#f08070" stroke-width="1.5" stroke-linecap="round" opacity="0.85"/>
<circle cx="457.6" cy="678.8" r="2.1" fill="#e0382c"/>
<line x1="462.1" y1="682.1" x2="460.2" y2="687.1" stroke="#f08070" stroke-width="1.5" stroke-linecap="round" opacity="0.85"/>
<circle cx="462.1" cy="682.1" r="1.4" fill="#e0382c"/>
<line x1="463.0" y1="703.0" x2="465.8" y2="701.4" stroke="#f08070" stroke-width="1.5" stroke-linecap="round" opacity="0.85"/>
<circle cx="463.0" cy="703.0" r="1.6" fill="#e0382c"/>
<line x1="425.8" y1="722.9" x2="427.7" y2="718.1" stroke="#f08070" stroke-width="1.5" stroke-linecap="round" opacity="0.85"/>
<circle cx="425.8" cy="722.9" r="1.3" fill="#e0382c"/>
<line x1="465.9" y1="682.4" x2="468.8" y2="683.6" stroke="#f08070" stroke-width="1.5" stroke-linecap="round" opacity="0.85"/>
<circle cx="465.9" cy="682.4" r="1.4" fill="#e0382c"/>
<line x1="443.7" y1="721.9" x2="448.2" y2="720.7" stroke="#f08070" stroke-width="1.5" stroke-linecap="round" opacity="0.85"/>
<circle cx="443.7" cy="721.9" r="1.5" fill="#e0382c"/>
<line x1="466.7" y1="707.4" x2="465.3" y2="712.2" stroke="#f08070" stroke-width="1.5" stroke-linecap="round" opacity="0.85"/>
<circle cx="466.7" cy="707.4" r="1.8" fill="#e0382c"/>
<line x1="471.1" y1="700.5" x2="472.4" y2="698.0" stroke="#f08070" stroke-width="1.5" stroke-linecap="round" opacity="0.85"/>
<circle cx="471.1" cy="700.5" r="1.9" fill="#e0382c"/>
<line x1="479.3" y1="722.7" x2="479.3" y2="726.7" stroke="#f08070" stroke-width="1.5" stroke-linecap="round" opacity="0.85"/>
<circle cx="479.3" cy="722.7" r="1.7" fill="#e0382c"/>
<line x1="434.6" y1="725.6" x2="434.2" y2="720.3" stroke="#f08070" stroke-width="1.5" stroke-linecap="round" opacity="0.85"/>
<circle cx="434.6" cy="725.6" r="1.9" fill="#e0382c"/>
<line x1="437.7" y1="726.0" x2="432.6" y2="727.3" stroke="#f08070" stroke-width="1.5" stroke-linecap="round" opacity="0.85"/>
<circle cx="437.7" cy="726.0" r="1.8" fill="#e0382c"/>
<line x1="435.4" y1="725.3" x2="435.5" y2="728.0" stroke="#f08070" stroke-width="1.5" stroke-linecap="round" opacity="0.85"/>
<circle cx="435.4" cy="725.3" r="1.3" fill="#e0382c"/>
<line x1="455.6" y1="721.1" x2="453.0" y2="722.4" stroke="#f08070" stroke-width="1.5" stroke-linecap="round" opacity="0.85"/>
<circle cx="455.6" cy="721.1" r="1.4" fill="#e0382c"/>
<line x1="428.9" y1="720.7" x2="423.9" y2="720.7" stroke="#f08070" stroke-width="1.5" stroke-linecap="round" opacity="0.85"/>
<circle cx="428.9" cy="720.7" r="1.7" fill="#e0382c"/>
<line x1="451.0" y1="679.7" x2="453.6" y2="677.6" stroke="#f08070" stroke-width="1.5" stroke-linecap="round" opacity="0.85"/>
<circle cx="451.0" cy="679.7" r="1.7" fill="#e0382c"/>
<line x1="467.9" y1="706.2" x2="467.0" y2="709.6" stroke="#f08070" stroke-width="1.5" stroke-linecap="round" opacity="0.85"/>
<circle cx="467.9" cy="706.2" r="1.5" fill="#e0382c"/>
<line x1="445.3" y1="693.0" x2="445.3" y2="696.4" stroke="#f08070" stroke-width="1.5" stroke-linecap="round" opacity="0.85"/>
<circle cx="445.3" cy="693.0" r="1.4" fill="#e0382c"/>
<line x1="434.9" y1="720.5" x2="434.9" y2="723.8" stroke="#f08070" stroke-width="1.5" stroke-linecap="round" opacity="0.85"/>
<circle cx="434.9" cy="720.5" r="1.7" fill="#e0382c"/>
<line x1="468.7" y1="705.2" x2="471.6" y2="705.1" stroke="#f08070" stroke-width="1.5" stroke-linecap="round" opacity="0.85"/>
<circle cx="468.7" cy="705.2" r="1.7" fill="#e0382c"/>
<line x1="482.8" y1="683.3" x2="486.2" y2="684.2" stroke="#f08070" stroke-width="1.5" stroke-linecap="round" opacity="0.85"/>
<circle cx="482.8" cy="683.3" r="1.4" fill="#e0382c"/>
<line x1="472.0" y1="682.6" x2="473.0" y2="685.2" stroke="#f08070" stroke-width="1.5" stroke-linecap="round" opacity="0.85"/>
<circle cx="472.0" cy="682.6" r="1.7" fill="#e0382c"/>
<path d="M473,682 L468.5,686 L473.5,690 L468,694.5 L472,698 L467.5,701" stroke="#f3e45a" stroke-width="2.6" fill="none" stroke-linecap="round" stroke-linejoin="round" opacity="0.85"/>
<circle cx="433" cy="690.3" r="5.6" fill="url(#gG)"/>
<circle cx="442.5" cy="686.8" r="4.2" fill="url(#gG)"/>
<circle cx="457.8" cy="691.5" r="6" fill="url(#gG)"/>
<circle cx="451.3" cy="709.1" r="4.6" fill="url(#gG)"/>
<circle cx="467.2" cy="716.8" r="5.6" fill="url(#gG)"/>
<circle cx="440.7" cy="713.8" r="6.3" fill="url(#gB2)"/>
<circle cx="475.4" cy="709.7" r="5.5" fill="url(#gP)"/>
<circle cx="450" cy="673.8" r="2.6" fill="#fff" fill-opacity="0.6" stroke="#999" stroke-width="0.9"/>
<circle cx="476" cy="678" r="2.6" fill="#fff" fill-opacity="0.6" stroke="#999" stroke-width="0.9"/>
<rect x="417.8" y="666.3" width="78.19999999999999" height="62.700000000000045" fill="none" stroke="#4a4a4a" stroke-width="2" stroke-dasharray="4.2,2.6"/>
<line x1="426.3" y1="657" x2="444.7" y2="657" stroke="#555" stroke-width="1.8"/>
<text x="446.2" y="659" font-size="11.4" fill="#555" text-anchor="start" font-weight="bold" >RP-Sr25</text>
<line x1="414" y1="630.1" x2="559.5" y2="630.1" stroke="#333" stroke-width="1.6" stroke-dasharray="2,1.8"/>
<line x1="453.6" y1="577.5" x2="524.8" y2="577.5" stroke="#333" stroke-width="1.6" stroke-dasharray="2,1.8"/>
<line x1="508.7" y1="601.8" x2="580" y2="601.8" stroke="#2a8c80" stroke-width="1.6" stroke-dasharray="2,1.8"/>
<line x1="489.4" y1="587" x2="489.4" y2="628" stroke="#333" stroke-width="1.6" stroke-dasharray="2,1.8"/>
<line x1="539.7" y1="611" x2="539.7" y2="626" stroke="#2a8c80" stroke-width="1.6" stroke-dasharray="2,1.8"/>
<path d="M486,588.5 L489.4,581.5 L492.8,588.5 Z" fill="#3a3a3a"/>
<path d="M536.3,612 L539.7,605 L543.1,612 Z" fill="#2a8c80"/>
<path d="M438.5,630.1 C447.0,621.4 472.5,578.1 489.4,577.7 C506.3,577.3 522.7,611.7 539.7,627.7 C556.7,643.7 574.3,659.7 591.4,673.8 C608.5,687.9 634.0,705.9 642.5,712.3" fill="none" stroke="#444" stroke-width="1.8"/>
<path d="M438.5,630.1 C447.0,628.3 472.5,623.9 489.4,619.1 C506.3,614.3 522.7,592.4 539.7,601.5 C556.7,610.7 574.3,653.8 591.4,674.1 C608.5,694.4 634.0,715.1 642.5,723.3" fill="none" stroke="#27907f" stroke-width="2.1"/>
<circle cx="438.5" cy="630.1" r="4.8" fill="#474b4b"/>
<circle cx="489.4" cy="577.7" r="4.8" fill="#474b4b"/>
<circle cx="539.7" cy="627.7" r="4.8" fill="#474b4b"/>
<circle cx="591.4" cy="673.8" r="4.8" fill="#474b4b"/>
<circle cx="642.5" cy="712.3" r="4.8" fill="#474b4b"/>
<circle cx="438.5" cy="630.1" r="4.8" fill="#24907f"/>
<circle cx="489.4" cy="619.1" r="4.8" fill="#24907f"/>
<circle cx="539.7" cy="601.5" r="4.8" fill="#24907f"/>
<circle cx="591.4" cy="674.1" r="4.8" fill="#24907f"/>
<circle cx="642.5" cy="723.3" r="4.8" fill="#24907f"/>
<text x="419.4" y="565.2" font-size="12.6" fill="#5c5c5c" font-weight="bold">E<tspan font-size="8" dy="2.8">m</tspan><tspan dy="-2.8">=0.754 eV</tspan></text>
<text x="511.8" y="589.8" font-size="12.6" fill="#25907f" font-weight="bold">E<tspan font-size="8" dy="2.8">m</tspan><tspan dy="-2.8">=0.402 eV</tspan></text>
<rect x="412.5" y="527.4" width="256.0" height="205.30000000000007" fill="none" stroke="#161616" stroke-width="3"/>
<line x1="409.0" y1="526.9000000000001" x2="412.5" y2="526.9000000000001" stroke="#161616" stroke-width="2"/>
<text x="407.3" y="532.8000000000001" font-size="16.5" fill="#161616" text-anchor="end" font-weight="bold" >1.5</text>
<line x1="409.0" y1="561.3000000000001" x2="412.5" y2="561.3000000000001" stroke="#161616" stroke-width="2"/>
<text x="407.3" y="567.2" font-size="16.5" fill="#161616" text-anchor="end" font-weight="bold" >1.0</text>
<line x1="409.0" y1="595.7" x2="412.5" y2="595.7" stroke="#161616" stroke-width="2"/>
<text x="407.3" y="601.6" font-size="16.5" fill="#161616" text-anchor="end" font-weight="bold" >0.5</text>
<line x1="409.0" y1="630.1" x2="412.5" y2="630.1" stroke="#161616" stroke-width="2"/>
<text x="407.3" y="636.0" font-size="16.5" fill="#161616" text-anchor="end" font-weight="bold" >0.0</text>
<line x1="409.0" y1="664.5" x2="412.5" y2="664.5" stroke="#161616" stroke-width="2"/>
<text x="407.3" y="670.4" font-size="16.5" fill="#161616" text-anchor="end" font-weight="bold" >-0.5</text>
<line x1="409.0" y1="698.9" x2="412.5" y2="698.9" stroke="#161616" stroke-width="2"/>
<text x="407.3" y="704.8" font-size="16.5" fill="#161616" text-anchor="end" font-weight="bold" >-1.0</text>
<line x1="409.0" y1="733.3" x2="412.5" y2="733.3" stroke="#161616" stroke-width="2"/>
<text x="407.3" y="739.1999999999999" font-size="16.5" fill="#161616" text-anchor="end" font-weight="bold" >-1.5</text>
<line x1="410.5" y1="544.1" x2="412.5" y2="544.1" stroke="#161616" stroke-width="1.5"/>
<line x1="410.5" y1="578.5" x2="412.5" y2="578.5" stroke="#161616" stroke-width="1.5"/>
<line x1="410.5" y1="612.9" x2="412.5" y2="612.9" stroke="#161616" stroke-width="1.5"/>
<line x1="410.5" y1="647.3000000000001" x2="412.5" y2="647.3000000000001" stroke="#161616" stroke-width="1.5"/>
<line x1="410.5" y1="681.7" x2="412.5" y2="681.7" stroke="#161616" stroke-width="1.5"/>
<line x1="410.5" y1="716.1" x2="412.5" y2="716.1" stroke="#161616" stroke-width="1.5"/>
<text transform="translate(371.8,667.6) rotate(-90)" font-size="17.3" fill="#161616" text-anchor="start" font-weight="bold">E<tspan font-size="11.5" dy="4" dx="3.5">m</tspan><tspan dy="-4" dx="2.5"> (eV)</tspan></text>
<text x="334.5" y="533.8" font-size="18" fill="#161616" text-anchor="start" font-weight="bold" >(f)</text>
<text x="533" y="767" font-size="17" fill="#161616" text-anchor="middle" font-weight="bold" >Diffusion path</text>
</svg>
</body></html>
